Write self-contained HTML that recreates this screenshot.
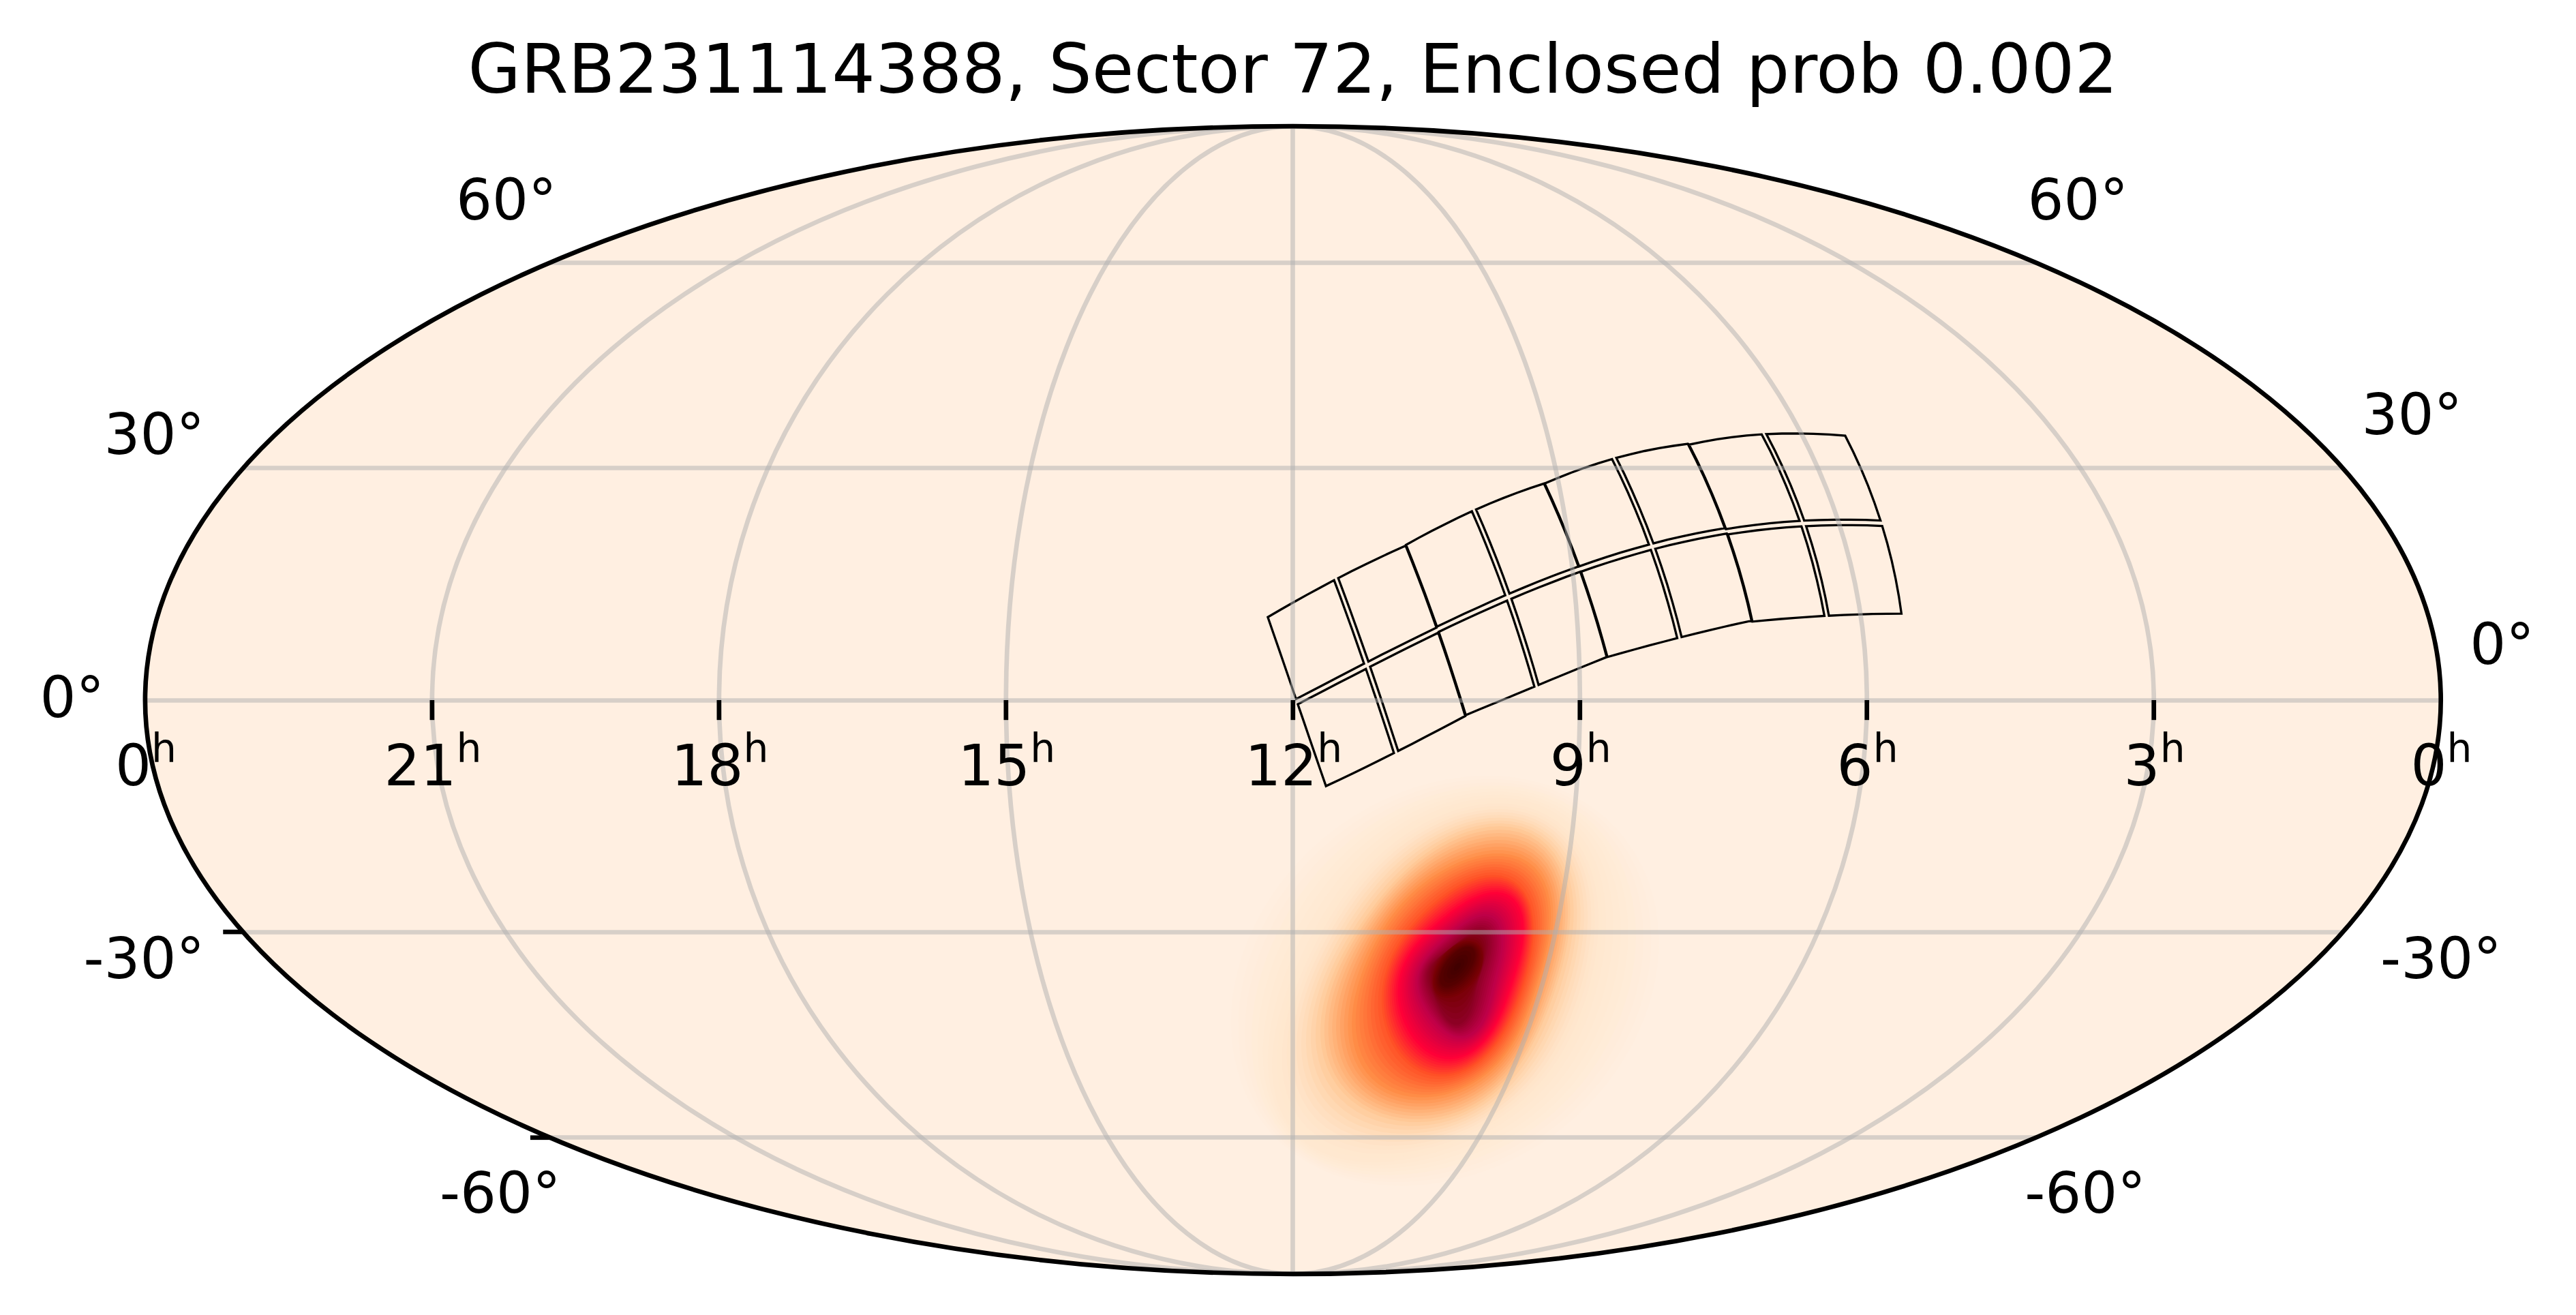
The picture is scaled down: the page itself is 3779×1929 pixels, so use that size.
<!DOCTYPE html>
<html><head><meta charset="utf-8"><title>GRB231114388, Sector 72</title>
<style>html,body{margin:0;padding:0;background:#fff;}body{width:3779px;height:1929px;overflow:hidden}svg{display:block}text{font-family:"DejaVu Sans","Liberation Sans",sans-serif;fill:#000}</style>
</head><body>
<svg width="3779" height="1929" viewBox="0 0 3779 1929">
<defs><clipPath id="clip"><ellipse cx="1896.8" cy="1027.0" rx="1683.9" ry="841.8"/></clipPath></defs>
<rect width="3779" height="1929" fill="#ffffff"/>
<ellipse cx="1896.8" cy="1027.0" rx="1683.9" ry="841.8" fill="#ffefe1"/>
<g clip-path="url(#clip)">
<path d="M2428.2 1437.9L2423.7 1457.8L2418.0 1477.2L2411.3 1496.0L2403.6 1514.1L2395.0 1531.5L2385.6 1548.3L2375.5 1564.3L2364.8 1579.7L2353.4 1594.4L2341.4 1608.4L2328.8 1621.8L2315.7 1634.5L2302.1 1646.5L2287.9 1657.9L2273.3 1668.7L2258.2 1678.8L2242.5 1688.2L2226.4 1696.9L2209.8 1705.0L2192.6 1712.3L2175.0 1718.9L2156.8 1724.6L2138.2 1729.6L2119.1 1733.6L2099.5 1736.7L2079.5 1738.7L2059.1 1739.5L2038.4 1739.1L2017.5 1737.3L1996.4 1734.0L1975.5 1729.1L1954.8 1722.4L1934.7 1713.9L1915.2 1703.5L1896.9 1691.3L1879.8 1677.2L1864.2 1661.4L1850.3 1644.1L1838.3 1625.5L1828.1 1605.9L1819.9 1585.4L1813.7 1564.4L1809.3 1543.0L1806.7 1521.6L1805.8 1500.2L1806.5 1479.0L1808.7 1458.2L1812.3 1437.9L1817.1 1418.1L1823.0 1398.9L1830.0 1380.4L1837.8 1362.5L1846.5 1345.3L1855.9 1328.9L1866.0 1313.1L1876.7 1298.0L1888.0 1283.5L1899.9 1269.7L1912.3 1256.5L1925.2 1244.0L1938.6 1232.0L1952.5 1220.7L1966.8 1210.0L1981.7 1199.9L1997.1 1190.4L2012.9 1181.6L2029.3 1173.4L2046.2 1165.9L2063.7 1159.2L2081.6 1153.3L2100.1 1148.2L2119.1 1144.0L2138.6 1140.9L2158.5 1138.8L2178.7 1138.0L2199.3 1138.4L2220.1 1140.3L2240.9 1143.8L2261.6 1148.8L2282.1 1155.6L2302.0 1164.2L2321.1 1174.6L2339.3 1186.7L2356.4 1200.6L2372.0 1216.1L2386.0 1233.1L2398.4 1251.3L2408.9 1270.6L2417.5 1290.7L2424.3 1311.5L2429.2 1332.6L2432.2 1354.0L2433.6 1375.3L2433.3 1396.5L2431.4 1417.4Z" fill="#ffeedf"/>
<path d="M2416.6 1436.8L2412.3 1456.0L2406.8 1474.8L2400.4 1492.9L2393.1 1510.4L2385.0 1527.3L2376.2 1543.6L2366.6 1559.3L2356.4 1574.3L2345.5 1588.7L2334.1 1602.4L2322.1 1615.6L2309.5 1628.1L2296.4 1640.0L2282.8 1651.2L2268.6 1661.9L2253.9 1671.9L2238.8 1681.2L2223.1 1689.9L2206.9 1698.0L2190.1 1705.3L2172.9 1711.9L2155.2 1717.8L2136.9 1722.9L2118.2 1727.2L2098.9 1730.5L2079.2 1732.8L2059.1 1734.0L2038.5 1734.0L2017.7 1732.7L1996.8 1729.8L1975.9 1725.3L1955.3 1718.9L1935.2 1710.6L1916.0 1700.2L1898.0 1687.9L1881.4 1673.5L1866.5 1657.4L1853.6 1639.8L1842.6 1620.9L1833.6 1601.1L1826.6 1580.6L1821.4 1559.7L1818.1 1538.6L1816.5 1517.6L1816.4 1496.8L1817.8 1476.3L1820.5 1456.3L1824.4 1436.8L1829.3 1417.8L1835.3 1399.5L1842.1 1381.8L1849.7 1364.8L1858.0 1348.4L1866.9 1332.7L1876.5 1317.6L1886.6 1303.1L1897.3 1289.1L1908.4 1275.8L1920.1 1263.0L1932.3 1250.8L1944.9 1239.2L1958.0 1228.0L1971.6 1217.4L1985.8 1207.4L2000.4 1197.9L2015.6 1189.0L2031.3 1180.8L2047.5 1173.1L2064.4 1166.2L2081.7 1160.0L2099.7 1154.6L2118.2 1150.1L2137.2 1146.6L2156.7 1144.2L2176.6 1142.9L2196.9 1143.0L2217.4 1144.6L2237.9 1147.7L2258.3 1152.5L2278.5 1159.2L2298.0 1167.6L2316.8 1178.0L2334.4 1190.2L2350.9 1204.1L2365.8 1219.6L2379.1 1236.5L2390.7 1254.7L2400.4 1273.8L2408.3 1293.7L2414.4 1314.1L2418.7 1334.7L2421.3 1355.5L2422.3 1376.3L2421.8 1396.8L2419.8 1417.0Z" fill="#ffeddd"/>
<path d="M2405.1 1435.6L2400.9 1454.2L2395.7 1472.3L2389.6 1489.8L2382.7 1506.7L2375.1 1523.1L2366.7 1538.9L2357.7 1554.2L2348.0 1568.8L2337.7 1582.9L2326.8 1596.4L2315.4 1609.3L2303.3 1621.7L2290.7 1633.4L2277.6 1644.6L2263.9 1655.1L2249.7 1665.0L2235.0 1674.3L2219.7 1683.0L2204.0 1691.0L2187.7 1698.3L2170.9 1705.0L2153.5 1711.0L2135.7 1716.3L2117.3 1720.7L2098.4 1724.3L2078.9 1727.0L2059.0 1728.6L2038.7 1729.0L2018.0 1728.1L1997.2 1725.6L1976.3 1721.4L1955.8 1715.4L1935.8 1707.2L1916.8 1696.9L1899.1 1684.4L1883.0 1669.9L1868.9 1653.5L1856.8 1635.5L1846.9 1616.3L1839.0 1596.3L1833.2 1575.7L1829.2 1554.9L1827.0 1534.2L1826.3 1513.6L1827.1 1493.4L1829.1 1473.6L1832.3 1454.3L1836.5 1435.6L1841.6 1417.6L1847.5 1400.1L1854.2 1383.3L1861.5 1367.1L1869.4 1351.5L1877.9 1336.5L1887.0 1322.0L1896.5 1308.2L1906.5 1294.8L1917.0 1281.9L1927.9 1269.6L1939.3 1257.7L1951.2 1246.3L1963.6 1235.3L1976.5 1224.9L1989.9 1214.9L2003.8 1205.4L2018.2 1196.5L2033.3 1188.1L2048.9 1180.3L2065.1 1173.2L2081.9 1166.7L2099.3 1161.0L2117.3 1156.2L2135.9 1152.3L2155.0 1149.5L2174.5 1147.9L2194.5 1147.6L2214.6 1148.8L2234.9 1151.6L2255.1 1156.2L2274.9 1162.7L2294.0 1171.1L2312.4 1181.4L2329.5 1193.6L2345.4 1207.5L2359.6 1223.1L2372.2 1240.0L2383.0 1258.1L2392.0 1277.0L2399.1 1296.6L2404.5 1316.6L2408.3 1336.9L2410.4 1357.1L2411.0 1377.2L2410.3 1397.1L2408.3 1416.6Z" fill="#ffecdb"/>
<path d="M2393.5 1434.5L2389.5 1452.4L2384.5 1469.8L2378.8 1486.7L2372.3 1503.1L2365.1 1518.9L2357.2 1534.3L2348.7 1549.1L2339.6 1563.4L2329.9 1577.2L2319.6 1590.4L2308.6 1603.1L2297.1 1615.3L2285.1 1626.9L2272.4 1637.9L2259.2 1648.3L2245.5 1658.1L2231.2 1667.4L2216.4 1676.0L2201.1 1684.0L2185.2 1691.4L2168.8 1698.1L2151.9 1704.2L2134.4 1709.6L2116.4 1714.3L2097.8 1718.1L2078.6 1721.1L2059.0 1723.1L2038.8 1723.9L2018.3 1723.4L1997.5 1721.4L1976.8 1717.6L1956.3 1711.8L1936.4 1703.9L1917.6 1693.6L1900.2 1681.0L1884.7 1666.2L1871.2 1649.5L1860.1 1631.2L1851.2 1611.7L1844.5 1591.5L1839.8 1570.9L1837.0 1550.2L1835.9 1529.7L1836.2 1509.6L1837.7 1489.9L1840.4 1470.8L1844.0 1452.4L1848.5 1434.5L1853.8 1417.3L1859.7 1400.7L1866.2 1384.7L1873.3 1369.4L1880.9 1354.6L1888.9 1340.3L1897.4 1326.5L1906.4 1313.3L1915.7 1300.4L1925.5 1288.1L1935.8 1276.1L1946.4 1264.5L1957.6 1253.4L1969.2 1242.7L1981.3 1232.3L1993.9 1222.4L2007.1 1213.0L2020.9 1204.0L2035.2 1195.5L2050.2 1187.5L2065.8 1180.1L2082.0 1173.4L2098.9 1167.4L2116.4 1162.3L2134.5 1158.0L2153.2 1154.8L2172.4 1152.8L2192.0 1152.2L2211.9 1153.1L2231.9 1155.6L2251.8 1160.0L2271.3 1166.2L2290.1 1174.5L2308.0 1184.8L2324.6 1197.0L2339.9 1211.0L2353.5 1226.6L2365.3 1243.5L2375.3 1261.5L2383.5 1280.3L2389.9 1299.6L2394.7 1319.2L2397.8 1339.0L2399.5 1358.6L2399.8 1378.1L2398.8 1397.3L2396.7 1416.1Z" fill="#ffecd8"/>
<path d="M2382.0 1433.4L2378.0 1450.6L2373.3 1467.3L2367.9 1483.6L2361.8 1499.4L2355.1 1514.7L2347.8 1529.6L2339.8 1544.0L2331.2 1557.9L2322.1 1571.4L2312.3 1584.4L2301.9 1596.9L2291.0 1608.9L2279.4 1620.3L2267.3 1631.2L2254.5 1641.5L2241.3 1651.3L2227.4 1660.4L2213.1 1669.0L2198.2 1677.0L2182.7 1684.4L2166.8 1691.2L2150.2 1697.4L2133.1 1702.9L2115.5 1707.8L2097.2 1711.9L2078.4 1715.2L2058.9 1717.6L2039.0 1718.9L2018.6 1718.8L1997.9 1717.2L1977.2 1713.8L1956.7 1708.3L1937.0 1700.5L1918.3 1690.3L1901.3 1677.6L1886.3 1662.5L1873.6 1645.5L1863.3 1626.9L1855.5 1607.1L1849.9 1586.7L1846.5 1566.0L1844.8 1545.5L1844.7 1525.3L1846.0 1505.6L1848.3 1486.5L1851.7 1468.1L1855.8 1450.4L1860.6 1433.4L1866.0 1417.0L1871.9 1401.3L1878.3 1386.2L1885.1 1371.7L1892.4 1357.6L1900.0 1344.1L1907.9 1331.0L1916.3 1318.4L1925.0 1306.1L1934.1 1294.2L1943.6 1282.6L1953.5 1271.4L1963.9 1260.5L1974.8 1250.0L1986.1 1239.8L1998.0 1230.0L2010.5 1220.5L2023.5 1211.4L2037.2 1202.8L2051.5 1194.7L2066.5 1187.1L2082.1 1180.1L2098.5 1173.8L2115.5 1168.3L2133.1 1163.7L2151.4 1160.2L2170.3 1157.8L2189.6 1156.8L2209.2 1157.3L2228.9 1159.5L2248.5 1163.7L2267.7 1169.8L2286.1 1178.0L2303.6 1188.2L2319.7 1200.4L2334.4 1214.5L2347.3 1230.1L2358.4 1247.0L2367.6 1264.9L2375.1 1283.5L2380.7 1302.6L2384.8 1321.8L2387.4 1341.1L2388.5 1360.2L2388.5 1379.1L2387.3 1397.6L2385.1 1415.7Z" fill="#ffebd6"/>
<path d="M2370.4 1432.2L2366.6 1448.8L2362.2 1464.8L2357.1 1480.5L2351.4 1495.7L2345.1 1510.5L2338.3 1524.9L2330.9 1538.9L2322.8 1552.5L2314.2 1565.7L2305.0 1578.4L2295.2 1590.7L2284.8 1602.5L2273.7 1613.7L2262.1 1624.5L2249.9 1634.7L2237.0 1644.4L2223.7 1653.5L2209.7 1662.0L2195.3 1670.0L2180.3 1677.4L2164.7 1684.3L2148.6 1690.6L2131.9 1696.3L2114.6 1701.4L2096.6 1705.8L2078.1 1709.4L2058.9 1712.1L2039.1 1713.8L2018.9 1714.2L1998.3 1713.0L1977.6 1710.0L1957.2 1704.8L1937.5 1697.2L1919.1 1687.0L1902.4 1674.1L1887.9 1658.9L1875.9 1641.5L1866.6 1622.5L1859.8 1602.5L1855.4 1581.9L1853.1 1561.2L1852.6 1540.8L1853.6 1520.8L1855.8 1501.6L1859.0 1483.1L1862.9 1465.4L1867.5 1448.4L1872.7 1432.2L1878.2 1416.8L1884.2 1401.9L1890.4 1387.7L1897.0 1373.9L1903.8 1360.7L1911.0 1347.9L1918.4 1335.5L1926.1 1323.5L1934.2 1311.7L1942.6 1300.3L1951.4 1289.2L1960.6 1278.3L1970.2 1267.7L1980.3 1257.3L1990.9 1247.2L2002.1 1237.5L2013.8 1228.0L2026.2 1218.9L2039.2 1210.2L2052.8 1201.9L2067.2 1194.1L2082.3 1186.8L2098.0 1180.2L2114.6 1174.4L2131.8 1169.4L2149.7 1165.5L2168.2 1162.8L2187.1 1161.4L2206.5 1161.6L2225.9 1163.5L2245.2 1167.4L2264.1 1173.3L2282.2 1181.4L2299.2 1191.6L2314.8 1203.9L2328.9 1217.9L2341.1 1233.6L2351.5 1250.5L2359.9 1268.3L2366.6 1286.7L2371.6 1305.5L2374.9 1324.4L2376.9 1343.2L2377.6 1361.8L2377.2 1380.0L2375.8 1397.9L2373.5 1415.3Z" fill="#ffead4"/>
<path d="M2358.9 1431.1L2355.2 1447.0L2351.0 1462.4L2346.3 1477.4L2341.0 1492.0L2335.2 1506.3L2328.8 1520.2L2321.9 1533.8L2314.5 1547.1L2306.4 1559.9L2297.8 1572.4L2288.5 1584.4L2278.6 1596.0L2268.1 1607.2L2256.9 1617.8L2245.2 1627.9L2232.8 1637.5L2219.9 1646.6L2206.4 1655.1L2192.4 1663.0L2177.8 1670.5L2162.6 1677.4L2146.9 1683.8L2130.6 1689.6L2113.7 1694.9L2096.1 1699.6L2077.8 1703.5L2058.8 1706.7L2039.3 1708.7L2019.1 1709.6L1998.6 1708.8L1978.0 1706.2L1957.7 1701.3L1938.1 1693.8L1919.9 1683.6L1903.5 1670.7L1889.6 1655.2L1878.3 1637.5L1869.8 1618.2L1864.1 1597.9L1860.8 1577.1L1859.7 1556.4L1860.4 1536.0L1862.5 1516.4L1865.6 1497.6L1869.6 1479.7L1874.2 1462.6L1879.3 1446.5L1884.7 1431.1L1890.4 1416.5L1896.4 1402.5L1902.5 1389.1L1908.8 1376.2L1915.3 1363.8L1922.0 1351.7L1928.9 1340.0L1936.0 1328.6L1943.4 1317.4L1951.1 1306.4L1959.2 1295.7L1967.7 1285.1L1976.5 1274.8L1985.9 1264.6L1995.8 1254.7L2006.2 1245.0L2017.2 1235.5L2028.8 1226.4L2041.1 1217.5L2054.2 1209.1L2067.9 1201.0L2082.4 1193.6L2097.6 1186.7L2113.7 1180.5L2130.4 1175.2L2147.9 1170.8L2166.1 1167.7L2184.7 1166.0L2203.7 1165.8L2222.9 1167.4L2241.9 1171.1L2260.5 1176.9L2278.2 1184.9L2294.8 1195.0L2309.9 1207.3L2323.4 1221.4L2334.9 1237.1L2344.6 1254.0L2352.3 1271.7L2358.1 1290.0L2362.4 1308.5L2365.1 1327.0L2366.5 1345.3L2366.7 1363.3L2365.9 1380.9L2364.3 1398.1L2361.9 1414.9Z" fill="#ffe9d2"/>
<path d="M2347.3 1430.0L2343.8 1445.1L2339.8 1459.9L2335.4 1474.3L2330.5 1488.4L2325.2 1502.1L2319.4 1515.6L2313.0 1528.7L2306.1 1541.6L2298.6 1554.2L2290.5 1566.4L2281.8 1578.2L2272.4 1589.6L2262.4 1600.6L2251.7 1611.1L2240.5 1621.1L2228.6 1630.6L2216.1 1639.6L2203.1 1648.1L2189.5 1656.0L2175.3 1663.5L2160.6 1670.5L2145.3 1676.9L2129.3 1683.0L2112.8 1688.5L2095.5 1693.4L2077.5 1697.7L2058.8 1701.2L2039.4 1703.7L2019.4 1704.9L1999.0 1704.6L1978.4 1702.3L1958.2 1697.7L1938.7 1690.5L1920.7 1680.3L1904.7 1667.3L1891.2 1651.6L1880.6 1633.6L1873.1 1613.9L1868.4 1593.3L1866.3 1572.3L1866.4 1551.5L1868.2 1531.3L1871.3 1512.0L1875.4 1493.6L1880.2 1476.2L1885.5 1459.9L1891.1 1444.5L1896.8 1430.0L1902.7 1416.2L1908.6 1403.1L1914.6 1390.6L1920.6 1378.5L1926.8 1366.9L1933.0 1355.5L1939.3 1344.5L1945.9 1333.7L1952.7 1323.0L1959.7 1312.5L1967.0 1302.2L1974.7 1292.0L1982.9 1281.9L1991.5 1272.0L2000.6 1262.1L2010.3 1252.5L2020.6 1243.0L2031.5 1233.8L2043.1 1224.9L2055.5 1216.3L2068.6 1208.0L2082.5 1200.3L2097.2 1193.1L2112.8 1186.6L2129.1 1180.9L2146.2 1176.2L2163.9 1172.7L2182.3 1170.5L2201.0 1170.0L2219.9 1171.4L2238.6 1174.8L2256.9 1180.4L2274.2 1188.3L2290.4 1198.5L2305.0 1210.7L2317.9 1224.9L2328.8 1240.6L2337.6 1257.4L2344.6 1275.1L2349.7 1293.2L2353.2 1311.4L2355.2 1329.6L2356.0 1347.4L2355.8 1364.9L2354.7 1381.9L2352.8 1398.4L2350.4 1414.4Z" fill="#ffe8d0"/>
<path d="M2341.5 1429.8L2338.0 1444.4L2334.1 1458.7L2329.8 1472.6L2325.1 1486.3L2319.9 1499.6L2314.3 1512.6L2308.2 1525.4L2301.6 1537.9L2294.4 1550.2L2286.7 1562.1L2278.3 1573.7L2269.4 1584.9L2259.8 1595.8L2249.6 1606.2L2238.7 1616.1L2227.3 1625.6L2215.2 1634.6L2202.6 1643.1L2189.3 1651.1L2175.5 1658.6L2161.1 1665.6L2146.1 1672.1L2130.5 1678.1L2114.2 1683.5L2097.2 1688.3L2079.6 1692.4L2061.3 1695.7L2042.3 1697.9L2022.8 1698.9L2002.9 1698.3L1983.0 1695.8L1963.3 1691.1L1944.4 1683.8L1926.9 1673.8L1911.4 1661.0L1898.3 1645.7L1887.9 1628.2L1880.4 1609.1L1875.7 1589.1L1873.5 1568.7L1873.4 1548.5L1875.1 1528.8L1878.0 1509.9L1882.0 1492.0L1886.6 1475.0L1891.7 1459.0L1897.1 1444.0L1902.8 1429.8L1908.5 1416.3L1914.4 1403.4L1920.3 1391.2L1926.2 1379.4L1932.3 1368.0L1938.4 1356.9L1944.7 1346.2L1951.1 1335.6L1957.8 1325.2L1964.7 1315.0L1971.8 1304.9L1979.4 1295.0L1987.3 1285.1L1995.7 1275.4L2004.6 1265.8L2014.0 1256.3L2024.1 1247.0L2034.7 1237.9L2046.1 1229.1L2058.1 1220.6L2070.9 1212.4L2084.6 1204.7L2099.0 1197.5L2114.2 1191.0L2130.2 1185.2L2147.0 1180.5L2164.5 1176.9L2182.5 1174.8L2200.9 1174.2L2219.5 1175.6L2237.9 1179.0L2255.7 1184.6L2272.7 1192.5L2288.4 1202.7L2302.6 1214.9L2315.0 1229.0L2325.4 1244.6L2333.8 1261.2L2340.3 1278.7L2345.1 1296.5L2348.2 1314.3L2350.0 1332.1L2350.6 1349.5L2350.2 1366.5L2349.0 1383.1L2347.0 1399.1L2344.5 1414.7Z" fill="#ffe8cf"/>
<path d="M2335.7 1429.5L2332.3 1443.7L2328.4 1457.5L2324.2 1471.0L2319.6 1484.2L2314.7 1497.1L2309.3 1509.7L2303.4 1522.1L2297.1 1534.3L2290.2 1546.2L2282.8 1557.8L2274.9 1569.2L2266.3 1580.2L2257.2 1590.9L2247.4 1601.2L2237.0 1611.1L2226.0 1620.6L2214.3 1629.6L2202.1 1638.2L2189.2 1646.2L2175.7 1653.8L2161.6 1660.8L2146.9 1667.3L2131.6 1673.3L2115.6 1678.6L2099.0 1683.2L2081.7 1687.1L2063.8 1690.2L2045.2 1692.1L2026.2 1692.8L2006.9 1692.0L1987.5 1689.3L1968.4 1684.5L1950.1 1677.2L1933.2 1667.3L1918.1 1654.7L1905.3 1639.8L1895.2 1622.8L1887.8 1604.3L1883.1 1584.9L1880.8 1565.1L1880.5 1545.4L1882.0 1526.3L1884.7 1507.9L1888.5 1490.4L1892.9 1473.8L1897.9 1458.2L1903.2 1443.4L1908.7 1429.5L1914.4 1416.3L1920.1 1403.8L1926.0 1391.8L1931.8 1380.3L1937.8 1369.1L1943.9 1358.4L1950.0 1347.8L1956.3 1337.5L1962.9 1327.4L1969.6 1317.5L1976.7 1307.6L1984.0 1297.9L1991.8 1288.3L2000.0 1278.8L2008.6 1269.4L2017.8 1260.1L2027.6 1251.0L2038.0 1242.0L2049.0 1233.3L2060.8 1224.9L2073.3 1216.8L2086.6 1209.1L2100.7 1201.9L2115.6 1195.4L2131.3 1189.6L2147.8 1184.8L2165.0 1181.2L2182.7 1179.0L2200.8 1178.4L2219.1 1179.7L2237.1 1183.1L2254.6 1188.8L2271.2 1196.7L2286.5 1206.8L2300.2 1219.1L2312.0 1233.1L2322.0 1248.5L2329.9 1265.0L2336.0 1282.2L2340.4 1299.7L2343.3 1317.2L2344.8 1334.6L2345.1 1351.6L2344.6 1368.2L2343.2 1384.2L2341.2 1399.8L2338.7 1414.9Z" fill="#ffe6cd"/>
<path d="M2329.9 1429.2L2326.5 1443.0L2322.7 1456.3L2318.6 1469.3L2314.2 1482.1L2309.4 1494.5L2304.2 1506.8L2298.6 1518.8L2292.6 1530.6L2286.1 1542.2L2279.0 1553.5L2271.5 1564.7L2263.3 1575.5L2254.6 1586.0L2245.2 1596.3L2235.2 1606.1L2224.6 1615.6L2213.4 1624.6L2201.5 1633.2L2189.1 1641.3L2175.9 1648.9L2162.2 1656.0L2147.8 1662.5L2132.7 1668.4L2117.1 1673.6L2100.7 1678.2L2083.8 1681.9L2066.2 1684.7L2048.2 1686.4L2029.6 1686.8L2010.8 1685.7L1992.0 1682.8L1973.5 1677.8L1955.9 1670.5L1939.4 1660.7L1924.8 1648.5L1912.4 1633.9L1902.5 1617.4L1895.2 1599.5L1890.4 1580.7L1888.0 1561.5L1887.6 1542.4L1888.8 1523.8L1891.4 1505.8L1895.0 1488.8L1899.3 1472.6L1904.1 1457.3L1909.3 1442.9L1914.7 1429.2L1920.2 1416.4L1925.9 1404.1L1931.6 1392.4L1937.5 1381.1L1943.3 1370.3L1949.3 1359.8L1955.4 1349.5L1961.6 1339.5L1968.0 1329.6L1974.6 1319.9L1981.5 1310.4L1988.7 1300.9L1996.2 1291.5L2004.2 1282.2L2012.6 1273.0L2021.6 1263.9L2031.1 1254.9L2041.2 1246.1L2052.0 1237.5L2063.4 1229.2L2075.7 1221.1L2088.6 1213.5L2102.4 1206.3L2117.1 1199.7L2132.5 1194.0L2148.7 1189.1L2165.5 1185.5L2183.0 1183.2L2200.8 1182.6L2218.7 1183.9L2236.4 1187.3L2253.5 1192.9L2269.6 1200.9L2284.5 1211.0L2297.7 1223.3L2309.1 1237.2L2318.6 1252.5L2326.1 1268.9L2331.8 1285.8L2335.8 1303.0L2338.3 1320.1L2339.5 1337.1L2339.7 1353.7L2339.0 1369.8L2337.5 1385.4L2335.4 1400.5L2332.9 1415.1Z" fill="#ffe5ca"/>
<path d="M2324.0 1429.0L2320.7 1442.3L2317.0 1455.1L2313.0 1467.7L2308.7 1480.0L2304.1 1492.0L2299.2 1503.8L2293.8 1515.5L2288.1 1526.9L2281.9 1538.2L2275.2 1549.3L2268.0 1560.1L2260.3 1570.8L2252.0 1581.2L2243.0 1591.3L2233.5 1601.1L2223.3 1610.6L2212.5 1619.6L2201.0 1628.3L2188.9 1636.4L2176.1 1644.1L2162.7 1651.2L2148.6 1657.7L2133.9 1663.6L2118.5 1668.7L2102.5 1673.1L2085.9 1676.6L2068.7 1679.2L2051.1 1680.6L2033.0 1680.8L2014.8 1679.4L1996.5 1676.3L1978.7 1671.2L1961.6 1663.8L1945.7 1654.2L1931.5 1642.2L1919.4 1628.1L1909.7 1612.1L1902.5 1594.7L1897.7 1576.5L1895.2 1557.9L1894.7 1539.4L1895.7 1521.3L1898.1 1503.8L1901.5 1487.1L1905.6 1471.3L1910.3 1456.4L1915.3 1442.3L1920.6 1429.0L1926.1 1416.4L1931.7 1404.4L1937.3 1393.0L1943.1 1382.0L1948.9 1371.4L1954.7 1361.2L1960.7 1351.2L1966.8 1341.4L1973.1 1331.8L1979.6 1322.4L1986.3 1313.1L1993.3 1303.8L2000.7 1294.7L2008.5 1285.6L2016.7 1276.6L2025.4 1267.7L2034.6 1258.9L2044.4 1250.2L2054.9 1241.7L2066.1 1233.5L2078.0 1225.5L2090.7 1217.9L2104.2 1210.7L2118.5 1204.1L2133.6 1198.3L2149.5 1193.5L2166.1 1189.8L2183.2 1187.4L2200.7 1186.8L2218.3 1188.1L2235.6 1191.5L2252.4 1197.1L2268.1 1205.1L2282.5 1215.2L2295.3 1227.4L2306.2 1241.3L2315.2 1256.5L2322.2 1272.7L2327.5 1289.3L2331.1 1306.2L2333.3 1323.0L2334.3 1339.6L2334.3 1355.8L2333.4 1371.4L2331.8 1386.6L2329.6 1401.2L2327.0 1415.3Z" fill="#ffe2c6"/>
<path d="M2318.2 1428.8L2314.9 1441.5L2311.3 1453.9L2307.4 1466.0L2303.3 1477.9L2298.9 1489.5L2294.1 1500.9L2289.0 1512.2L2283.6 1523.2L2277.7 1534.2L2271.4 1545.0L2264.6 1555.6L2257.2 1566.1L2249.4 1576.3L2240.9 1586.4L2231.8 1596.1L2222.0 1605.6L2211.6 1614.6L2200.5 1623.3L2188.8 1631.5L2176.3 1639.3L2163.2 1646.4L2149.4 1652.9L2135.0 1658.7L2119.9 1663.8L2104.2 1668.0L2088.0 1671.3L2071.2 1673.7L2054.0 1674.8L2036.4 1674.7L2018.7 1673.1L2001.1 1669.8L1983.8 1664.5L1967.3 1657.2L1952.0 1647.7L1938.2 1635.9L1926.5 1622.2L1917.0 1606.7L1909.9 1589.9L1905.1 1572.3L1902.5 1554.3L1901.7 1536.3L1902.6 1518.8L1904.8 1501.8L1908.0 1485.5L1912.0 1470.1L1916.5 1455.5L1921.4 1441.8L1926.6 1428.8L1932.0 1416.4L1937.4 1404.7L1943.0 1393.6L1948.7 1382.9L1954.4 1372.6L1960.2 1362.6L1966.0 1352.9L1972.0 1343.4L1978.2 1334.0L1984.5 1324.9L1991.1 1315.8L1998.0 1306.8L2005.2 1297.9L2012.7 1289.0L2020.7 1280.2L2029.1 1271.5L2038.1 1262.9L2047.7 1254.3L2057.9 1246.0L2068.8 1237.8L2080.4 1229.8L2092.7 1222.3L2105.9 1215.1L2119.9 1208.5L2134.7 1202.7L2150.3 1197.8L2166.6 1194.0L2183.4 1191.7L2200.6 1191.0L2217.9 1192.2L2234.9 1195.6L2251.2 1201.3L2266.6 1209.3L2280.5 1219.4L2292.8 1231.6L2303.3 1245.4L2311.8 1260.5L2318.4 1276.5L2323.2 1292.9L2326.5 1309.5L2328.4 1325.9L2329.1 1342.1L2328.8 1357.8L2327.8 1373.1L2326.1 1387.7L2323.9 1401.9L2321.2 1415.6Z" fill="#ffdfc0"/>
<path d="M2312.4 1428.5L2309.1 1440.8L2305.6 1452.8L2301.8 1464.4L2297.8 1475.8L2293.6 1487.0L2289.1 1498.0L2284.3 1508.8L2279.1 1519.6L2273.5 1530.2L2267.6 1540.7L2261.2 1551.1L2254.2 1561.4L2246.7 1571.5L2238.7 1581.4L2230.0 1591.1L2220.7 1600.5L2210.7 1609.7L2200.0 1618.4L2188.6 1626.7L2176.5 1634.4L2163.7 1641.6L2150.3 1648.1L2136.1 1653.9L2121.4 1658.8L2106.0 1662.9L2090.1 1666.1L2073.7 1668.2L2056.9 1669.1L2039.8 1668.7L2022.7 1666.8L2005.6 1663.3L1988.9 1657.9L1973.0 1650.5L1958.2 1641.1L1944.9 1629.7L1933.6 1616.3L1924.3 1601.3L1917.2 1585.1L1912.4 1568.1L1909.7 1550.7L1908.8 1533.3L1909.5 1516.3L1911.5 1499.7L1914.5 1483.9L1918.3 1468.9L1922.7 1454.7L1927.5 1441.2L1932.5 1428.5L1937.8 1416.5L1943.2 1405.0L1948.7 1394.2L1954.3 1383.7L1959.9 1373.7L1965.6 1364.0L1971.4 1354.5L1977.3 1345.3L1983.3 1336.3L1989.5 1327.3L1995.9 1318.5L2002.6 1309.8L2009.6 1301.1L2017.0 1292.4L2024.7 1283.8L2032.9 1275.3L2041.6 1266.8L2050.9 1258.4L2060.8 1250.2L2071.4 1242.1L2082.7 1234.2L2094.8 1226.7L2107.7 1219.5L2121.4 1212.9L2135.9 1207.1L2151.2 1202.1L2167.2 1198.3L2183.7 1195.9L2200.6 1195.2L2217.5 1196.4L2234.1 1199.8L2250.1 1205.5L2265.0 1213.5L2278.6 1223.6L2290.4 1235.8L2300.3 1249.5L2308.4 1264.5L2314.5 1280.3L2319.0 1296.5L2321.9 1312.7L2323.4 1328.8L2323.9 1344.6L2323.4 1359.9L2322.2 1374.7L2320.4 1388.9L2318.1 1402.6L2315.4 1415.8Z" fill="#ffdcba"/>
<path d="M2306.6 1428.2L2303.3 1440.1L2299.9 1451.6L2296.2 1462.8L2292.4 1473.7L2288.3 1484.4L2284.0 1495.0L2279.5 1505.5L2274.6 1515.9L2269.4 1526.2L2263.8 1536.4L2257.7 1546.6L2251.2 1556.6L2244.1 1566.6L2236.5 1576.5L2228.3 1586.1L2219.4 1595.5L2209.8 1604.7L2199.5 1613.4L2188.5 1621.8L2176.7 1629.6L2164.3 1636.8L2151.1 1643.3L2137.3 1649.0L2122.8 1653.9L2107.7 1657.9L2092.2 1660.8L2076.2 1662.6L2059.8 1663.3L2043.2 1662.6L2026.6 1660.5L2010.1 1656.7L1994.0 1651.2L1978.7 1643.9L1964.5 1634.6L1951.7 1623.4L1940.6 1610.4L1931.6 1596.0L1924.6 1580.3L1919.8 1563.9L1916.9 1547.1L1915.9 1530.3L1916.4 1513.7L1918.2 1497.7L1921.0 1482.3L1924.6 1467.7L1928.9 1453.8L1933.5 1440.7L1938.5 1428.2L1943.7 1416.5L1949.0 1405.4L1954.4 1394.8L1959.9 1384.6L1965.4 1374.8L1971.0 1365.4L1976.7 1356.2L1982.5 1347.2L1988.4 1338.5L1994.5 1329.8L2000.7 1321.2L2007.3 1312.7L2014.1 1304.3L2021.2 1295.8L2028.7 1287.5L2036.7 1279.1L2045.1 1270.8L2054.2 1262.5L2063.8 1254.4L2074.1 1246.4L2085.1 1238.6L2096.8 1231.1L2109.4 1223.9L2122.8 1217.3L2137.0 1211.4L2152.0 1206.4L2167.7 1202.6L2183.9 1200.1L2200.5 1199.4L2217.1 1200.6L2233.4 1204.0L2249.0 1209.6L2263.5 1217.7L2276.6 1227.8L2287.9 1240.0L2297.4 1253.6L2305.0 1268.5L2310.7 1284.1L2314.7 1300.0L2317.2 1316.0L2318.5 1331.8L2318.6 1347.1L2318.0 1362.0L2316.6 1376.3L2314.6 1390.1L2312.3 1403.3L2309.5 1416.0Z" fill="#ffd8b2"/>
<path d="M2300.7 1428.0L2297.5 1439.4L2294.2 1450.4L2290.6 1461.1L2287.0 1471.6L2283.1 1481.9L2279.0 1492.1L2274.7 1502.2L2270.1 1512.2L2265.2 1522.2L2259.9 1532.1L2254.3 1542.1L2248.2 1551.9L2241.5 1561.8L2234.3 1571.5L2226.5 1581.1L2218.1 1590.5L2208.9 1599.7L2199.0 1608.5L2188.3 1616.9L2176.9 1624.7L2164.8 1631.9L2151.9 1638.5L2138.4 1644.2L2124.2 1649.0L2109.5 1652.8L2094.3 1655.5L2078.7 1657.1L2062.7 1657.5L2046.6 1656.6L2030.5 1654.2L2014.6 1650.2L1999.2 1644.6L1984.4 1637.2L1970.7 1628.0L1958.4 1617.1L1947.7 1604.6L1938.8 1590.6L1932.0 1575.5L1927.1 1559.7L1924.2 1543.5L1923.0 1527.3L1923.3 1511.2L1924.9 1495.7L1927.5 1480.7L1931.0 1466.4L1935.1 1452.9L1939.6 1440.1L1944.5 1428.0L1949.5 1416.5L1954.8 1405.7L1960.1 1395.4L1965.5 1385.5L1970.9 1376.0L1976.5 1366.8L1982.1 1357.9L1987.7 1349.2L1993.5 1340.7L1999.4 1332.3L2005.6 1323.9L2011.9 1315.7L2018.5 1307.5L2025.4 1299.3L2032.7 1291.1L2040.5 1282.9L2048.7 1274.8L2057.4 1266.6L2066.7 1258.6L2076.7 1250.7L2087.4 1242.9L2098.9 1235.5L2111.1 1228.3L2124.2 1221.7L2138.1 1215.8L2152.8 1210.7L2168.2 1206.8L2184.2 1204.4L2200.4 1203.6L2216.7 1204.8L2232.7 1208.1L2247.9 1213.8L2262.0 1221.8L2274.6 1232.0L2285.5 1244.1L2294.5 1257.8L2301.6 1272.5L2306.8 1287.9L2310.4 1303.6L2312.6 1319.2L2313.5 1334.7L2313.4 1349.6L2312.5 1364.1L2311.0 1378.0L2308.9 1391.3L2306.5 1404.0L2303.7 1416.2Z" fill="#ffd3aa"/>
<path d="M2294.9 1427.8L2291.8 1438.6L2288.5 1449.2L2285.1 1459.5L2281.5 1469.5L2277.8 1479.4L2273.9 1489.2L2269.9 1498.9L2265.6 1508.5L2261.0 1518.2L2256.1 1527.9L2250.9 1537.5L2245.1 1547.2L2238.9 1556.9L2232.2 1566.5L2224.8 1576.1L2216.7 1585.5L2208.0 1594.7L2198.5 1603.5L2188.2 1612.0L2177.1 1619.9L2165.3 1627.1L2152.8 1633.6L2139.5 1639.3L2125.7 1644.0L2111.2 1647.7L2096.4 1650.3L2081.1 1651.6L2065.6 1651.8L2050.0 1650.5L2034.5 1647.9L2019.2 1643.7L2004.3 1638.0L1990.1 1630.6L1977.0 1621.5L1965.1 1610.8L1954.7 1598.7L1946.1 1585.2L1939.3 1570.7L1934.5 1555.5L1931.4 1539.9L1930.0 1524.2L1930.2 1508.7L1931.6 1493.6L1934.0 1479.1L1937.3 1465.2L1941.3 1452.0L1945.7 1439.5L1950.4 1427.8L1955.4 1416.6L1960.5 1406.0L1965.8 1395.9L1971.1 1386.3L1976.5 1377.1L1981.9 1368.2L1987.4 1359.6L1993.0 1351.1L1998.6 1342.9L2004.4 1334.7L2010.4 1326.6L2016.5 1318.6L2023.0 1310.6L2029.7 1302.7L2036.8 1294.7L2044.2 1286.7L2052.2 1278.7L2060.6 1270.8L2069.7 1262.8L2079.4 1255.0L2089.8 1247.3L2100.9 1239.8L2112.9 1232.7L2125.7 1226.1L2139.3 1220.1L2153.7 1215.1L2168.8 1211.1L2184.4 1208.6L2200.3 1207.8L2216.3 1208.9L2231.9 1212.3L2246.8 1218.0L2260.4 1226.0L2272.6 1236.2L2283.0 1248.3L2291.6 1261.9L2298.2 1276.5L2303.0 1291.7L2306.2 1307.1L2308.0 1322.5L2308.6 1337.6L2308.2 1352.1L2307.1 1366.2L2305.4 1379.6L2303.2 1392.4L2300.7 1404.7L2297.9 1416.5Z" fill="#ffcea0"/>
<path d="M2289.1 1427.5L2286.0 1437.9L2282.8 1448.0L2279.5 1457.8L2276.1 1467.4L2272.5 1476.9L2268.9 1486.2L2265.1 1495.6L2261.1 1504.9L2256.9 1514.2L2252.3 1523.6L2247.4 1533.0L2242.1 1542.5L2236.3 1552.0L2230.0 1561.6L2223.0 1571.1L2215.4 1580.5L2207.1 1589.7L2198.0 1598.6L2188.1 1607.1L2177.3 1615.0L2165.9 1622.3L2153.6 1628.8L2140.7 1634.5L2127.1 1639.1L2113.0 1642.6L2098.5 1645.0L2083.6 1646.1L2068.6 1646.0L2053.4 1644.5L2038.4 1641.6L2023.7 1637.2L2009.4 1631.3L1995.9 1623.9L1983.2 1615.0L1971.8 1604.6L1961.8 1592.8L1953.4 1579.8L1946.7 1565.9L1941.8 1551.3L1938.6 1536.3L1937.1 1521.2L1937.1 1506.2L1938.3 1491.6L1940.6 1477.5L1943.7 1464.0L1947.5 1451.2L1951.7 1439.0L1956.4 1427.5L1961.2 1416.6L1966.3 1406.3L1971.5 1396.5L1976.7 1387.2L1982.0 1378.2L1987.3 1369.6L1992.7 1361.2L1998.2 1353.1L2003.7 1345.1L2009.4 1337.2L2015.2 1329.4L2021.2 1321.6L2027.4 1313.8L2033.9 1306.1L2040.8 1298.3L2048.0 1290.5L2055.7 1282.7L2063.9 1274.9L2072.6 1267.0L2082.0 1259.3L2092.1 1251.7L2103.0 1244.2L2114.6 1237.1L2127.1 1230.5L2140.4 1224.5L2154.5 1219.4L2169.3 1215.4L2184.6 1212.8L2200.3 1211.9L2215.9 1213.1L2231.2 1216.5L2245.6 1222.2L2258.9 1230.2L2270.6 1240.4L2280.6 1252.5L2288.6 1266.0L2294.8 1280.5L2299.1 1295.5L2301.9 1310.7L2303.3 1325.8L2303.6 1340.5L2303.0 1354.6L2301.6 1368.3L2299.8 1381.2L2297.5 1393.6L2294.9 1405.4L2292.1 1416.7Z" fill="#ffc896"/>
<path d="M2285.4 1427.7L2282.4 1437.8L2279.3 1447.7L2276.1 1457.2L2272.8 1466.6L2269.4 1475.8L2265.8 1485.0L2262.2 1494.1L2258.3 1503.2L2254.2 1512.3L2249.8 1521.5L2245.0 1530.7L2239.9 1540.0L2234.2 1549.3L2228.1 1558.7L2221.3 1568.0L2213.8 1577.2L2205.7 1586.2L2196.8 1594.8L2187.1 1603.1L2176.6 1610.9L2165.4 1618.1L2153.4 1624.5L2140.8 1630.0L2127.5 1634.5L2113.8 1638.0L2099.5 1640.4L2085.0 1641.6L2070.3 1641.5L2055.5 1640.0L2040.8 1637.2L2026.4 1632.9L2012.4 1627.1L1999.2 1619.8L1987.0 1610.9L1975.9 1600.6L1966.2 1589.0L1958.2 1576.2L1951.8 1562.5L1947.2 1548.2L1944.2 1533.5L1942.9 1518.8L1942.9 1504.2L1944.1 1490.0L1946.3 1476.2L1949.3 1463.1L1953.0 1450.7L1957.1 1438.9L1961.5 1427.7L1966.1 1417.1L1971.0 1407.1L1975.9 1397.5L1980.9 1388.4L1986.0 1379.6L1991.1 1371.2L1996.3 1363.0L2001.6 1355.0L2007.0 1347.1L2012.5 1339.4L2018.1 1331.7L2023.9 1324.1L2030.0 1316.5L2036.4 1308.9L2043.1 1301.3L2050.2 1293.7L2057.7 1286.1L2065.7 1278.4L2074.3 1270.8L2083.5 1263.3L2093.4 1255.9L2104.0 1248.7L2115.4 1241.8L2127.5 1235.3L2140.5 1229.5L2154.3 1224.5L2168.8 1220.5L2183.8 1217.9L2199.1 1217.0L2214.4 1218.0L2229.4 1221.1L2243.6 1226.6L2256.7 1234.4L2268.2 1244.4L2277.9 1256.2L2285.8 1269.4L2291.7 1283.7L2295.9 1298.5L2298.5 1313.4L2299.8 1328.2L2300.0 1342.7L2299.3 1356.6L2297.9 1369.9L2296.0 1382.6L2293.7 1394.6L2291.1 1406.2L2288.3 1417.1Z" fill="#ffc08c"/>
<path d="M2281.8 1427.9L2278.8 1437.8L2275.8 1447.3L2272.7 1456.7L2269.5 1465.8L2266.2 1474.8L2262.8 1483.7L2259.2 1492.6L2255.5 1501.5L2251.5 1510.4L2247.3 1519.4L2242.6 1528.4L2237.6 1537.5L2232.1 1546.6L2226.1 1555.8L2219.5 1564.9L2212.3 1573.8L2204.3 1582.6L2195.6 1591.1L2186.2 1599.2L2175.9 1606.8L2165.0 1613.8L2153.3 1620.1L2140.9 1625.5L2128.0 1630.0L2114.5 1633.4L2100.6 1635.8L2086.4 1637.0L2072.0 1636.9L2057.5 1635.5L2043.1 1632.8L2029.0 1628.6L2015.4 1622.8L2002.6 1615.6L1990.7 1606.8L1980.0 1596.7L1970.7 1585.2L1963.0 1572.6L1956.9 1559.1L1952.6 1545.1L1949.8 1530.7L1948.6 1516.3L1948.7 1502.1L1949.9 1488.3L1952.1 1475.0L1955.0 1462.3L1958.5 1450.2L1962.4 1438.7L1966.6 1427.9L1971.0 1417.6L1975.7 1407.8L1980.4 1398.5L1985.2 1389.6L1990.0 1381.0L1994.9 1372.8L1999.9 1364.7L2005.0 1356.9L2010.2 1349.2L2015.5 1341.6L2021.0 1334.1L2026.7 1326.6L2032.6 1319.1L2038.9 1311.7L2045.4 1304.3L2052.3 1296.9L2059.7 1289.4L2067.6 1282.0L2076.0 1274.6L2085.0 1267.3L2094.6 1260.1L2105.0 1253.2L2116.1 1246.5L2128.0 1240.2L2140.7 1234.5L2154.1 1229.5L2168.2 1225.6L2182.9 1223.0L2197.9 1222.0L2212.9 1222.8L2227.6 1225.8L2241.6 1231.1L2254.4 1238.6L2265.7 1248.3L2275.3 1259.9L2282.9 1272.9L2288.7 1286.9L2292.7 1301.5L2295.2 1316.2L2296.3 1330.7L2296.3 1344.9L2295.5 1358.5L2294.1 1371.5L2292.2 1383.9L2289.9 1395.7L2287.3 1406.9L2284.6 1417.6Z" fill="#ffb982"/>
<path d="M2278.1 1428.1L2275.2 1437.7L2272.3 1447.0L2269.3 1456.1L2266.2 1465.0L2263.0 1473.8L2259.7 1482.5L2256.3 1491.1L2252.7 1499.8L2248.9 1508.5L2244.7 1517.3L2240.3 1526.1L2235.4 1535.0L2230.1 1543.9L2224.2 1552.9L2217.8 1561.7L2210.7 1570.5L2202.9 1579.1L2194.4 1587.4L2185.2 1595.3L2175.2 1602.7L2164.5 1609.6L2153.1 1615.7L2141.1 1621.0L2128.4 1625.4L2115.3 1628.8L2101.7 1631.2L2087.8 1632.4L2073.7 1632.4L2059.5 1631.1L2045.5 1628.4L2031.7 1624.2L2018.4 1618.6L2005.9 1611.4L1994.4 1602.8L1984.0 1592.7L1975.1 1581.4L1967.8 1568.9L1962.1 1555.7L1958.0 1542.0L1955.5 1527.9L1954.4 1513.9L1954.5 1500.1L1955.7 1486.7L1957.8 1473.8L1960.6 1461.4L1964.0 1449.7L1967.7 1438.6L1971.7 1428.1L1975.9 1418.1L1980.3 1408.6L1984.8 1399.5L1989.4 1390.8L1994.0 1382.4L1998.7 1374.3L2003.5 1366.5L2008.4 1358.8L2013.4 1351.2L2018.6 1343.8L2023.9 1336.4L2029.4 1329.1L2035.2 1321.8L2041.3 1314.5L2047.7 1307.3L2054.5 1300.0L2061.7 1292.8L2069.4 1285.6L2077.6 1278.4L2086.4 1271.3L2095.9 1264.4L2106.0 1257.6L2116.8 1251.1L2128.4 1245.0L2140.8 1239.4L2153.9 1234.6L2167.7 1230.7L2182.0 1228.1L2196.7 1227.0L2211.4 1227.7L2225.9 1230.5L2239.6 1235.5L2252.2 1242.8L2263.3 1252.3L2272.6 1263.6L2280.1 1276.4L2285.7 1290.2L2289.5 1304.5L2291.8 1318.9L2292.8 1333.2L2292.7 1347.1L2291.8 1360.4L2290.3 1373.1L2288.4 1385.2L2286.1 1396.7L2283.6 1407.6L2280.9 1418.1Z" fill="#ffb278"/>
<path d="M2274.4 1428.2L2271.6 1437.6L2268.8 1446.7L2265.9 1455.5L2262.9 1464.2L2259.9 1472.7L2256.7 1481.2L2253.4 1489.7L2249.9 1498.1L2246.2 1506.6L2242.2 1515.2L2237.9 1523.8L2233.1 1532.5L2228.0 1541.2L2222.3 1550.0L2216.0 1558.6L2209.1 1567.2L2201.5 1575.6L2193.3 1583.7L2184.3 1591.4L2174.5 1598.7L2164.1 1605.3L2153.0 1611.3L2141.2 1616.5L2128.9 1620.9L2116.0 1624.2L2102.8 1626.6L2089.2 1627.8L2075.4 1627.9L2061.5 1626.6L2047.8 1624.0L2034.4 1619.9L2021.4 1614.4L2009.2 1607.3L1998.1 1598.7L1988.1 1588.8L1979.6 1577.5L1972.6 1565.3L1967.2 1552.3L1963.4 1538.8L1961.1 1525.1L1960.1 1511.5L1960.3 1498.1L1961.6 1485.0L1963.6 1472.5L1966.3 1460.6L1969.5 1449.2L1973.0 1438.5L1976.8 1428.2L1980.8 1418.5L1985.0 1409.3L1989.3 1400.5L1993.6 1392.0L1998.0 1383.8L2002.5 1375.9L2007.1 1368.2L2011.8 1360.7L2016.7 1353.3L2021.6 1346.0L2026.8 1338.7L2032.2 1331.6L2037.8 1324.4L2043.8 1317.3L2050.0 1310.3L2056.7 1303.2L2063.7 1296.2L2071.3 1289.2L2079.3 1282.2L2087.9 1275.4L2097.1 1268.6L2107.0 1262.1L2117.6 1255.8L2128.9 1249.8L2140.9 1244.4L2153.7 1239.7L2167.1 1235.9L2181.1 1233.2L2195.5 1232.0L2209.9 1232.6L2224.1 1235.2L2237.6 1240.0L2250.0 1247.0L2260.9 1256.3L2270.0 1267.3L2277.3 1279.9L2282.6 1293.4L2286.3 1307.5L2288.4 1321.7L2289.2 1335.7L2289.1 1349.3L2288.1 1362.3L2286.6 1374.7L2284.6 1386.5L2282.3 1397.7L2279.8 1408.4L2277.2 1418.5Z" fill="#ffaa6e"/>
<path d="M2270.8 1428.4L2268.1 1437.5L2265.3 1446.3L2262.5 1454.9L2259.6 1463.4L2256.7 1471.7L2253.6 1479.9L2250.5 1488.2L2247.1 1496.4L2243.5 1504.7L2239.7 1513.1L2235.5 1521.5L2230.9 1530.0L2225.9 1538.5L2220.3 1547.1L2214.2 1555.5L2207.5 1563.9L2200.1 1572.1L2192.1 1580.0L2183.3 1587.5L2173.8 1594.6L2163.7 1601.1L2152.8 1606.9L2141.4 1612.0L2129.3 1616.3L2116.8 1619.6L2103.8 1622.0L2090.6 1623.2L2077.1 1623.3L2063.6 1622.1L2050.1 1619.6L2037.0 1615.6L2024.4 1610.1L2012.6 1603.1L2001.8 1594.7L1992.2 1584.8L1984.0 1573.7L1977.4 1561.7L1972.3 1548.9L1968.8 1535.7L1966.7 1522.3L1965.8 1509.1L1966.1 1496.0L1967.4 1483.4L1969.4 1471.3L1971.9 1459.7L1975.0 1448.8L1978.3 1438.3L1981.9 1428.4L1985.7 1419.0L1989.7 1410.1L1993.7 1401.5L1997.8 1393.2L2002.0 1385.2L2006.3 1377.5L2010.7 1370.0L2015.2 1362.6L2019.9 1355.3L2024.7 1348.2L2029.7 1341.1L2034.9 1334.1L2040.4 1327.1L2046.2 1320.2L2052.4 1313.2L2058.8 1306.4L2065.8 1299.5L2073.1 1292.7L2081.0 1286.0L2089.4 1279.4L2098.4 1272.9L2108.0 1266.5L2118.3 1260.4L2129.3 1254.7L2141.1 1249.4L2153.5 1244.8L2166.6 1241.0L2180.3 1238.3L2194.3 1237.0L2208.4 1237.5L2222.3 1239.9L2235.6 1244.4L2247.7 1251.3L2258.4 1260.2L2267.4 1271.0L2274.4 1283.3L2279.6 1296.6L2283.1 1310.5L2285.0 1324.4L2285.7 1338.1L2285.4 1351.5L2284.4 1364.2L2282.8 1376.3L2280.8 1387.9L2278.5 1398.8L2276.0 1409.1L2273.4 1419.0Z" fill="#ffa264"/>
<path d="M2267.1 1428.6L2264.5 1437.5L2261.8 1446.0L2259.1 1454.3L2256.3 1462.5L2253.5 1470.6L2250.6 1478.7L2247.5 1486.7L2244.3 1494.8L2240.9 1502.9L2237.1 1511.0L2233.1 1519.2L2228.7 1527.5L2223.8 1535.8L2218.4 1544.1L2212.5 1552.4L2205.9 1560.6L2198.8 1568.5L2190.9 1576.2L2182.4 1583.6L2173.1 1590.5L2163.2 1596.8L2152.7 1602.5L2141.5 1607.5L2129.8 1611.7L2117.5 1615.0L2104.9 1617.4L2092.0 1618.7L2078.8 1618.8L2065.6 1617.7L2052.5 1615.2L2039.7 1611.3L2027.4 1605.9L2015.9 1599.0L2005.5 1590.6L1996.3 1580.8L1988.5 1569.9L1982.2 1558.1L1977.4 1545.5L1974.2 1532.6L1972.3 1519.6L1971.6 1506.6L1972.0 1494.0L1973.2 1481.8L1975.1 1470.1L1977.6 1458.9L1980.5 1448.3L1983.6 1438.2L1987.1 1428.6L1990.6 1419.5L1994.4 1410.8L1998.2 1402.4L2002.1 1394.4L2006.1 1386.6L2010.1 1379.1L2014.3 1371.7L2018.7 1364.5L2023.1 1357.4L2027.8 1350.4L2032.6 1343.4L2037.7 1336.6L2043.0 1329.7L2048.7 1323.0L2054.7 1316.2L2061.0 1309.6L2067.8 1302.9L2075.0 1296.3L2082.6 1289.8L2090.8 1283.4L2099.6 1277.1L2109.0 1271.0L2119.0 1265.1L2129.8 1259.5L2141.2 1254.4L2153.3 1249.8L2166.1 1246.1L2179.4 1243.4L2193.1 1242.0L2206.9 1242.3L2220.5 1244.5L2233.5 1248.9L2245.5 1255.5L2256.0 1264.2L2264.7 1274.8L2271.6 1286.8L2276.6 1299.9L2279.9 1313.5L2281.6 1327.1L2282.2 1340.6L2281.8 1353.7L2280.7 1366.1L2279.0 1378.0L2277.0 1389.2L2274.7 1399.8L2272.3 1409.9L2269.7 1419.5Z" fill="#ff9b5a"/>
<path d="M2263.5 1428.8L2260.9 1437.4L2258.3 1445.7L2255.7 1453.8L2253.0 1461.7L2250.3 1469.6L2247.5 1477.4L2244.6 1485.2L2241.5 1493.1L2238.2 1501.0L2234.6 1508.9L2230.7 1516.9L2226.4 1525.0L2221.7 1533.1L2216.5 1541.2L2210.7 1549.3L2204.4 1557.2L2197.4 1565.0L2189.7 1572.5L2181.4 1579.7L2172.4 1586.4L2162.8 1592.6L2152.5 1598.2L2141.6 1603.1L2130.2 1607.2L2118.3 1610.5L2106.0 1612.8L2093.4 1614.1L2080.5 1614.3L2067.6 1613.2L2054.8 1610.8L2042.3 1607.0L2030.4 1601.7L2019.3 1594.8L2009.2 1586.5L2000.3 1576.9L1992.9 1566.1L1987.0 1554.4L1982.5 1542.1L1979.5 1529.5L1977.9 1516.8L1977.3 1504.2L1977.8 1492.0L1979.0 1480.1L1980.9 1468.8L1983.2 1458.0L1986.0 1447.8L1989.0 1438.1L1992.2 1428.8L1995.5 1420.0L1999.0 1411.5L2002.6 1403.4L2006.3 1395.6L2010.1 1388.0L2013.9 1380.7L2017.9 1373.4L2022.1 1366.4L2026.4 1359.4L2030.8 1352.6L2035.5 1345.8L2040.4 1339.1L2045.6 1332.4L2051.1 1325.8L2057.0 1319.2L2063.2 1312.7L2069.8 1306.3L2076.8 1299.9L2084.3 1293.6L2092.3 1287.4L2100.9 1281.3L2110.0 1275.4L2119.8 1269.7L2130.2 1264.3L2141.3 1259.4L2153.1 1254.9L2165.5 1251.2L2178.5 1248.5L2191.9 1247.1L2205.4 1247.2L2218.8 1249.2L2231.5 1253.3L2243.2 1259.7L2253.5 1268.1L2262.1 1278.5L2268.7 1290.3L2273.5 1303.1L2276.6 1316.5L2278.3 1329.9L2278.7 1343.1L2278.2 1355.8L2276.9 1368.0L2275.2 1379.6L2273.2 1390.5L2270.9 1400.8L2268.5 1410.6L2266.0 1419.9Z" fill="#ff9450"/>
<path d="M2259.8 1429.0L2257.3 1437.3L2254.8 1445.3L2252.3 1453.2L2249.8 1460.9L2247.2 1468.6L2244.5 1476.2L2241.7 1483.8L2238.7 1491.4L2235.5 1499.1L2232.1 1506.8L2228.3 1514.6L2224.2 1522.5L2219.6 1530.4L2214.5 1538.3L2208.9 1546.2L2202.8 1553.9L2196.0 1561.5L2188.6 1568.8L2180.5 1575.7L2171.7 1582.3L2162.3 1588.3L2152.3 1593.8L2141.8 1598.6L2130.7 1602.6L2119.1 1605.9L2107.1 1608.2L2094.7 1609.5L2082.2 1609.7L2069.6 1608.7L2057.2 1606.4L2045.0 1602.7L2033.4 1597.4L2022.6 1590.7L2012.9 1582.5L2004.4 1572.9L1997.4 1562.3L1991.8 1550.8L1987.7 1538.7L1984.9 1526.4L1983.5 1514.0L1983.1 1501.8L1983.6 1489.9L1984.8 1478.5L1986.6 1467.6L1988.9 1457.2L1991.5 1447.3L1994.3 1437.9L1997.3 1429.0L2000.4 1420.5L2003.7 1412.3L2007.1 1404.4L2010.5 1396.8L2014.1 1389.4L2017.7 1382.2L2021.5 1375.2L2025.5 1368.3L2029.6 1361.5L2033.9 1354.8L2038.4 1348.1L2043.2 1341.6L2048.3 1335.0L2053.6 1328.6L2059.3 1322.2L2065.4 1315.9L2071.8 1309.7L2078.7 1303.5L2086.0 1297.4L2093.8 1291.4L2102.1 1285.6L2111.0 1279.9L2120.5 1274.4L2130.7 1269.2L2141.4 1264.3L2152.9 1260.0L2165.0 1256.3L2177.6 1253.6L2190.7 1252.1L2203.9 1252.1L2217.0 1253.9L2229.5 1257.8L2241.0 1263.9L2251.1 1272.1L2259.4 1282.2L2265.9 1293.8L2270.5 1306.3L2273.4 1319.4L2274.9 1332.6L2275.2 1345.6L2274.5 1358.0L2273.2 1369.9L2271.5 1381.2L2269.4 1391.8L2267.1 1401.9L2264.7 1411.3L2262.3 1420.4Z" fill="#ff8c46"/>
<path d="M2257.3 1429.3L2254.9 1437.4L2252.5 1445.2L2250.0 1452.8L2247.6 1460.3L2245.1 1467.7L2242.4 1475.1L2239.7 1482.5L2236.8 1489.9L2233.7 1497.3L2230.4 1504.8L2226.8 1512.4L2222.7 1520.1L2218.3 1527.8L2213.4 1535.5L2208.0 1543.2L2202.1 1550.8L2195.5 1558.2L2188.3 1565.4L2180.5 1572.3L2172.0 1578.8L2162.9 1584.8L2153.2 1590.3L2142.8 1595.1L2132.0 1599.1L2120.6 1602.3L2108.9 1604.5L2096.9 1605.7L2084.7 1605.8L2072.4 1604.6L2060.4 1602.1L2048.7 1598.2L2037.5 1592.9L2027.2 1586.2L2017.8 1578.0L2009.7 1568.7L2002.9 1558.3L1997.5 1547.2L1993.5 1535.6L1990.8 1523.6L1989.2 1511.7L1988.7 1500.0L1989.0 1488.5L1990.1 1477.5L1991.7 1466.9L1993.7 1456.8L1996.1 1447.2L1998.7 1438.0L2001.5 1429.3L2004.5 1421.0L2007.6 1412.9L2010.9 1405.2L2014.3 1397.8L2017.7 1390.5L2021.3 1383.5L2025.1 1376.6L2029.0 1369.8L2033.0 1363.2L2037.3 1356.6L2041.7 1350.2L2046.4 1343.8L2051.4 1337.4L2056.6 1331.2L2062.2 1324.9L2068.1 1318.8L2074.4 1312.7L2081.1 1306.6L2088.3 1300.7L2095.9 1294.8L2104.1 1289.0L2112.7 1283.4L2122.0 1277.9L2132.0 1272.8L2142.5 1267.9L2153.8 1263.6L2165.6 1260.1L2178.0 1257.4L2190.8 1256.0L2203.7 1256.1L2216.4 1258.1L2228.5 1262.1L2239.5 1268.3L2249.2 1276.6L2257.1 1286.6L2263.3 1298.0L2267.6 1310.3L2270.4 1323.1L2271.8 1335.9L2272.0 1348.5L2271.4 1360.6L2270.1 1372.1L2268.5 1383.0L2266.5 1393.3L2264.3 1403.0L2262.0 1412.2L2259.7 1420.9Z" fill="#ff8442"/>
<path d="M2254.8 1429.6L2252.4 1437.4L2250.1 1445.0L2247.8 1452.4L2245.4 1459.7L2242.9 1466.9L2240.4 1474.0L2237.8 1481.2L2235.0 1488.3L2232.0 1495.6L2228.7 1502.9L2225.2 1510.2L2221.3 1517.7L2217.1 1525.2L2212.3 1532.7L2207.1 1540.2L2201.4 1547.6L2195.1 1554.9L2188.1 1562.0L2180.5 1568.9L2172.3 1575.3L2163.5 1581.3L2154.0 1586.8L2143.9 1591.6L2133.3 1595.6L2122.2 1598.7L2110.7 1600.9L2099.0 1602.0L2087.1 1601.9L2075.3 1600.5L2063.6 1597.9L2052.3 1593.8L2041.6 1588.4L2031.7 1581.7L2022.8 1573.6L2015.0 1564.5L2008.5 1554.4L2003.3 1543.6L1999.4 1532.4L1996.6 1520.9L1995.0 1509.4L1994.4 1498.1L1994.5 1487.1L1995.3 1476.5L1996.7 1466.2L1998.5 1456.4L2000.7 1447.1L2003.1 1438.2L2005.8 1429.6L2008.6 1421.5L2011.6 1413.6L2014.7 1406.0L2018.0 1398.7L2021.4 1391.6L2024.9 1384.8L2028.6 1378.0L2032.4 1371.4L2036.4 1364.9L2040.6 1358.5L2045.0 1352.2L2049.7 1346.0L2054.5 1339.8L2059.7 1333.7L2065.1 1327.7L2070.9 1321.6L2077.1 1315.7L2083.6 1309.8L2090.6 1303.9L2098.0 1298.1L2106.0 1292.4L2114.5 1286.9L2123.6 1281.5L2133.3 1276.3L2143.6 1271.6L2154.6 1267.3L2166.3 1263.8L2178.4 1261.2L2190.9 1259.9L2203.4 1260.2L2215.8 1262.3L2227.5 1266.5L2238.1 1272.8L2247.3 1281.0L2254.9 1291.0L2260.7 1302.2L2264.8 1314.3L2267.4 1326.7L2268.6 1339.2L2268.8 1351.4L2268.3 1363.1L2267.1 1374.2L2265.5 1384.8L2263.6 1394.7L2261.5 1404.1L2259.3 1413.0L2257.0 1421.5Z" fill="#ff7d3e"/>
<path d="M2252.2 1429.9L2250.0 1437.5L2247.8 1444.8L2245.5 1452.0L2243.2 1459.0L2240.8 1466.0L2238.4 1472.9L2235.8 1479.9L2233.1 1486.8L2230.2 1493.8L2227.0 1500.9L2223.6 1508.0L2219.9 1515.2L2215.8 1522.5L2211.3 1529.8L2206.2 1537.2L2200.7 1544.5L2194.6 1551.6L2187.9 1558.7L2180.6 1565.4L2172.6 1571.8L2164.0 1577.8L2154.8 1583.3L2145.0 1588.0L2134.6 1592.0L2123.8 1595.1L2112.6 1597.2L2101.1 1598.2L2089.6 1598.0L2078.1 1596.4L2066.8 1593.6L2055.9 1589.4L2045.7 1583.9L2036.2 1577.1L2027.7 1569.2L2020.3 1560.3L2014.1 1550.5L2009.0 1540.0L2005.2 1529.2L2002.5 1518.2L2000.8 1507.2L2000.0 1496.3L2000.0 1485.7L2000.6 1475.4L2001.7 1465.5L2003.3 1456.0L2005.3 1447.0L2007.5 1438.3L2010.0 1429.9L2012.7 1421.9L2015.5 1414.3L2018.6 1406.9L2021.7 1399.7L2025.1 1392.8L2028.5 1386.0L2032.2 1379.4L2035.9 1373.0L2039.9 1366.6L2044.0 1360.4L2048.3 1354.3L2052.9 1348.2L2057.7 1342.2L2062.7 1336.3L2068.1 1330.4L2073.7 1324.5L2079.7 1318.7L2086.1 1312.9L2092.9 1307.2L2100.2 1301.5L2107.9 1295.9L2116.2 1290.3L2125.1 1285.0L2134.6 1279.9L2144.7 1275.2L2155.5 1271.0L2166.9 1267.5L2178.8 1265.0L2191.0 1263.9L2203.2 1264.3L2215.2 1266.6L2226.4 1270.9L2236.6 1277.2L2245.4 1285.5L2252.6 1295.4L2258.1 1306.5L2261.9 1318.3L2264.3 1330.4L2265.5 1342.5L2265.7 1354.2L2265.1 1365.6L2264.0 1376.3L2262.4 1386.5L2260.6 1396.2L2258.7 1405.3L2256.6 1413.9L2254.4 1422.1Z" fill="#ff763a"/>
<path d="M2249.7 1430.2L2247.6 1437.6L2245.4 1444.7L2243.2 1451.6L2241.0 1458.4L2238.7 1465.2L2236.3 1471.9L2233.8 1478.6L2231.2 1485.3L2228.4 1492.1L2225.4 1498.9L2222.1 1505.8L2218.5 1512.8L2214.5 1519.9L2210.2 1527.0L2205.3 1534.2L2200.0 1541.3L2194.1 1548.4L2187.7 1555.3L2180.6 1562.0L2172.9 1568.4L2164.6 1574.3L2155.6 1579.8L2146.0 1584.5L2135.9 1588.5L2125.3 1591.6L2114.4 1593.6L2103.2 1594.4L2092.0 1594.0L2080.9 1592.3L2070.0 1589.3L2059.6 1585.0L2049.8 1579.4L2040.8 1572.6L2032.7 1564.8L2025.6 1556.0L2019.6 1546.5L2014.8 1536.5L2011.0 1526.1L2008.3 1515.5L2006.6 1504.9L2005.6 1494.5L2005.4 1484.3L2005.8 1474.4L2006.8 1464.9L2008.1 1455.7L2009.9 1446.8L2011.9 1438.4L2014.2 1430.2L2016.7 1422.4L2019.5 1414.9L2022.4 1407.7L2025.5 1400.7L2028.7 1393.9L2032.1 1387.3L2035.7 1380.8L2039.4 1374.5L2043.3 1368.4L2047.4 1362.3L2051.6 1356.3L2056.1 1350.5L2060.8 1344.6L2065.8 1338.8L2071.0 1333.1L2076.5 1327.4L2082.4 1321.7L2088.6 1316.0L2095.2 1310.4L2102.3 1304.8L2109.8 1299.3L2117.9 1293.8L2126.6 1288.5L2135.9 1283.5L2145.8 1278.8L2156.4 1274.6L2167.5 1271.2L2179.1 1268.8L2191.1 1267.8L2203.0 1268.3L2214.5 1270.8L2225.4 1275.2L2235.2 1281.7L2243.5 1290.0L2250.3 1299.8L2255.5 1310.7L2259.1 1322.2L2261.3 1334.0L2262.4 1345.7L2262.5 1357.1L2262.0 1368.1L2260.9 1378.5L2259.4 1388.3L2257.7 1397.6L2255.9 1406.4L2253.9 1414.7L2251.8 1422.7Z" fill="#ff6e36"/>
<path d="M2247.2 1430.6L2245.2 1437.6L2243.1 1444.5L2241.0 1451.2L2238.8 1457.8L2236.6 1464.3L2234.3 1470.8L2231.9 1477.3L2229.3 1483.8L2226.6 1490.3L2223.7 1496.9L2220.5 1503.6L2217.1 1510.4L2213.2 1517.3L2209.1 1524.2L2204.4 1531.2L2199.3 1538.1L2193.7 1545.1L2187.5 1551.9L2180.7 1558.5L2173.2 1564.9L2165.1 1570.8L2156.4 1576.3L2147.1 1581.0L2137.2 1585.0L2126.9 1588.0L2116.2 1589.9L2105.4 1590.7L2094.5 1590.1L2083.7 1588.2L2073.2 1585.1L2063.2 1580.6L2053.9 1574.9L2045.3 1568.1L2037.6 1560.4L2030.9 1551.8L2025.2 1542.6L2020.5 1532.9L2016.9 1522.9L2014.2 1512.8L2012.3 1502.7L2011.3 1492.7L2010.9 1482.9L2011.1 1473.4L2011.8 1464.2L2012.9 1455.3L2014.5 1446.7L2016.3 1438.5L2018.4 1430.6L2020.8 1422.9L2023.4 1415.6L2026.2 1408.5L2029.2 1401.6L2032.4 1395.0L2035.7 1388.5L2039.2 1382.2L2042.9 1376.1L2046.7 1370.1L2050.7 1364.2L2054.9 1358.4L2059.3 1352.7L2063.9 1347.0L2068.8 1341.4L2073.9 1335.8L2079.3 1330.3L2085.0 1324.7L2091.1 1319.2L2097.5 1313.7L2104.4 1308.2L2111.8 1302.7L2119.7 1297.3L2128.1 1292.1L2137.2 1287.1L2146.9 1282.4L2157.3 1278.3L2168.2 1274.9L2179.5 1272.7L2191.1 1271.7L2202.7 1272.4L2213.9 1275.0L2224.4 1279.6L2233.7 1286.1L2241.6 1294.5L2248.0 1304.2L2252.9 1314.9L2256.2 1326.2L2258.3 1337.7L2259.3 1349.0L2259.4 1360.0L2258.8 1370.6L2257.8 1380.6L2256.4 1390.1L2254.8 1399.0L2253.0 1407.5L2251.2 1415.6L2249.2 1423.2Z" fill="#ff6632"/>
<path d="M2244.7 1430.9L2242.7 1437.7L2240.7 1444.3L2238.7 1450.8L2236.6 1457.2L2234.5 1463.5L2232.3 1469.7L2229.9 1476.0L2227.5 1482.2L2224.8 1488.6L2222.0 1494.9L2219.0 1501.4L2215.6 1508.0L2212.0 1514.6L2208.0 1521.4L2203.5 1528.2L2198.6 1535.0L2193.2 1541.8L2187.3 1548.5L2180.7 1555.1L2173.5 1561.4L2165.7 1567.3L2157.2 1572.8L2148.1 1577.5L2138.5 1581.5L2128.5 1584.4L2118.1 1586.3L2107.5 1586.9L2096.9 1586.2L2086.5 1584.1L2076.4 1580.8L2066.9 1576.2L2058.0 1570.4L2049.8 1563.6L2042.5 1556.0L2036.2 1547.6L2030.8 1538.6L2026.3 1529.3L2022.7 1519.7L2020.0 1510.0L2018.1 1500.4L2016.9 1490.9L2016.3 1481.5L2016.3 1472.4L2016.8 1463.5L2017.7 1454.9L2019.1 1446.6L2020.7 1438.6L2022.7 1430.9L2024.9 1423.4L2027.4 1416.2L2030.1 1409.3L2033.0 1402.6L2036.1 1396.1L2039.3 1389.8L2042.8 1383.6L2046.4 1377.7L2050.1 1371.8L2054.1 1366.1L2058.2 1360.5L2062.6 1354.9L2067.1 1349.4L2071.8 1344.0L2076.8 1338.5L2082.1 1333.1L2087.7 1327.7L2093.6 1322.3L2099.8 1316.9L2106.5 1311.5L2113.7 1306.1L2121.4 1300.8L2129.7 1295.6L2138.5 1290.6L2148.0 1286.0L2158.1 1282.0L2168.8 1278.7L2179.9 1276.5L2191.2 1275.6L2202.5 1276.5L2213.3 1279.2L2223.3 1284.0L2232.3 1290.6L2239.8 1298.9L2245.8 1308.6L2250.3 1319.1L2253.4 1330.2L2255.2 1341.3L2256.1 1352.3L2256.2 1362.9L2255.7 1373.1L2254.7 1382.7L2253.4 1391.9L2251.9 1400.5L2250.2 1408.7L2248.5 1416.4L2246.6 1423.8Z" fill="#ff5f2e"/>
<path d="M2242.2 1431.2L2240.3 1437.8L2238.4 1444.2L2236.5 1450.4L2234.5 1456.5L2232.4 1462.6L2230.2 1468.6L2228.0 1474.7L2225.6 1480.7L2223.1 1486.8L2220.3 1493.0L2217.4 1499.2L2214.2 1505.6L2210.7 1512.0L2206.9 1518.5L2202.6 1525.2L2197.9 1531.8L2192.8 1538.5L2187.0 1545.1L2180.7 1551.6L2173.8 1557.9L2166.2 1563.8L2158.0 1569.3L2149.2 1574.0L2139.8 1577.9L2130.0 1580.9L2119.9 1582.6L2109.6 1583.1L2099.4 1582.3L2089.3 1580.1L2079.6 1576.5L2070.5 1571.8L2062.0 1565.9L2054.4 1559.1L2047.5 1551.5L2041.5 1543.3L2036.3 1534.7L2032.1 1525.7L2028.6 1516.6L2025.9 1507.3L2023.9 1498.1L2022.5 1489.0L2021.8 1480.1L2021.6 1471.3L2021.9 1462.8L2022.6 1454.5L2023.7 1446.5L2025.1 1438.7L2026.9 1431.2L2029.0 1423.9L2031.3 1416.9L2033.9 1410.1L2036.7 1403.6L2039.7 1397.2L2042.9 1391.0L2046.3 1385.1L2049.9 1379.2L2053.6 1373.5L2057.5 1368.0L2061.5 1362.5L2065.8 1357.1L2070.2 1351.8L2074.9 1346.5L2079.7 1341.3L2084.9 1336.0L2090.3 1330.7L2096.0 1325.5L2102.1 1320.2L2108.7 1314.8L2115.6 1309.5L2123.1 1304.3L2131.2 1299.1L2139.8 1294.2L2149.1 1289.6L2159.0 1285.6L2169.4 1282.4L2180.3 1280.3L2191.3 1279.6L2202.2 1280.5L2212.7 1283.4L2222.3 1288.3L2230.8 1295.1L2237.9 1303.4L2243.5 1313.0L2247.7 1323.4L2250.5 1334.1L2252.2 1345.0L2253.0 1355.6L2253.1 1365.8L2252.6 1375.6L2251.6 1384.9L2250.4 1393.6L2249.0 1401.9L2247.4 1409.8L2245.7 1417.2L2244.0 1424.4Z" fill="#ff582a"/>
<path d="M2239.6 1431.5L2237.9 1437.8L2236.1 1444.0L2234.2 1450.0L2232.3 1455.9L2230.3 1461.8L2228.2 1467.6L2226.0 1473.4L2223.7 1479.2L2221.3 1485.0L2218.7 1491.0L2215.8 1497.0L2212.8 1503.1L2209.4 1509.4L2205.8 1515.7L2201.7 1522.2L2197.3 1528.7L2192.3 1535.2L2186.8 1541.8L2180.8 1548.2L2174.1 1554.4L2166.8 1560.3L2158.8 1565.8L2150.3 1570.5L2141.2 1574.4L2131.6 1577.3L2121.7 1579.0L2111.7 1579.3L2101.8 1578.3L2092.1 1576.0L2082.8 1572.3L2074.2 1567.4L2066.1 1561.4L2058.9 1554.6L2052.4 1547.1L2046.8 1539.1L2041.9 1530.7L2037.8 1522.1L2034.4 1513.4L2031.7 1504.6L2029.7 1495.9L2028.2 1487.2L2027.3 1478.7L2026.8 1470.3L2026.9 1462.1L2027.4 1454.1L2028.3 1446.4L2029.5 1438.8L2031.1 1431.5L2033.1 1424.4L2035.3 1417.6L2037.7 1410.9L2040.4 1404.5L2043.4 1398.3L2046.5 1392.3L2049.8 1386.5L2053.3 1380.8L2057.0 1375.3L2060.8 1369.9L2064.8 1364.6L2069.0 1359.4L2073.4 1354.2L2077.9 1349.1L2082.7 1344.0L2087.7 1338.9L2092.9 1333.7L2098.5 1328.6L2104.5 1323.4L2110.8 1318.2L2117.6 1313.0L2124.9 1307.8L2132.7 1302.7L2141.2 1297.8L2150.2 1293.3L2159.9 1289.3L2170.1 1286.1L2180.7 1284.1L2191.4 1283.5L2202.0 1284.6L2212.1 1287.7L2221.3 1292.7L2229.3 1299.5L2236.0 1307.9L2241.2 1317.4L2245.1 1327.6L2247.6 1338.1L2249.2 1348.6L2249.9 1358.8L2249.9 1368.7L2249.4 1378.1L2248.6 1387.0L2247.4 1395.4L2246.1 1403.4L2244.6 1410.9L2243.0 1418.1L2241.4 1424.9Z" fill="#ff5026"/>
<path d="M2237.5 1431.5L2235.7 1437.7L2233.9 1443.7L2232.1 1449.5L2230.2 1455.3L2228.3 1461.0L2226.3 1466.6L2224.2 1472.3L2222.0 1477.9L2219.6 1483.6L2217.1 1489.4L2214.4 1495.3L2211.4 1501.3L2208.2 1507.4L2204.6 1513.7L2200.7 1520.0L2196.4 1526.4L2191.6 1532.9L2186.3 1539.3L2180.4 1545.6L2173.9 1551.8L2166.7 1557.6L2158.9 1563.0L2150.6 1567.6L2141.6 1571.4L2132.3 1574.2L2122.6 1575.8L2112.9 1576.1L2103.2 1575.1L2093.7 1572.6L2084.7 1569.0L2076.3 1564.1L2068.5 1558.3L2061.4 1551.6L2055.1 1544.3L2049.6 1536.5L2044.9 1528.3L2040.8 1519.9L2037.5 1511.5L2034.8 1502.9L2032.7 1494.4L2031.2 1486.0L2030.3 1477.7L2029.8 1469.5L2029.8 1461.5L2030.3 1453.7L2031.1 1446.1L2032.3 1438.7L2033.9 1431.5L2035.8 1424.6L2038.0 1417.9L2040.4 1411.4L2043.1 1405.1L2046.0 1399.1L2049.1 1393.2L2052.4 1387.5L2055.8 1382.0L2059.4 1376.6L2063.2 1371.4L2067.2 1366.2L2071.3 1361.2L2075.5 1356.2L2080.0 1351.2L2084.7 1346.3L2089.6 1341.3L2094.7 1336.4L2100.1 1331.4L2105.9 1326.4L2112.1 1321.3L2118.7 1316.2L2125.8 1311.1L2133.4 1306.1L2141.6 1301.3L2150.5 1296.8L2159.9 1292.8L2169.9 1289.6L2180.2 1287.4L2190.8 1286.7L2201.3 1287.6L2211.2 1290.4L2220.3 1295.3L2228.2 1301.9L2234.8 1310.1L2239.9 1319.5L2243.6 1329.6L2246.0 1340.0L2247.4 1350.4L2248.0 1360.5L2247.9 1370.2L2247.4 1379.4L2246.4 1388.1L2245.3 1396.4L2243.9 1404.1L2242.4 1411.5L2240.8 1418.5L2239.2 1425.2Z" fill="#ff4628"/>
<path d="M2235.3 1431.6L2233.5 1437.6L2231.8 1443.4L2230.0 1449.1L2228.2 1454.7L2226.3 1460.2L2224.4 1465.7L2222.3 1471.2L2220.2 1476.7L2217.9 1482.2L2215.5 1487.9L2212.9 1493.7L2210.0 1499.5L2206.9 1505.5L2203.5 1511.6L2199.7 1517.8L2195.5 1524.1L2190.9 1530.5L2185.7 1536.8L2180.0 1543.1L2173.6 1549.2L2166.6 1554.9L2159.0 1560.2L2150.8 1564.7L2142.1 1568.5L2133.0 1571.2L2123.5 1572.7L2114.0 1572.9L2104.5 1571.8L2095.4 1569.3L2086.6 1565.7L2078.4 1560.9L2070.8 1555.1L2063.9 1548.6L2057.8 1541.5L2052.4 1533.8L2047.8 1525.9L2043.8 1517.8L2040.6 1509.5L2037.9 1501.2L2035.8 1493.0L2034.3 1484.7L2033.3 1476.7L2032.8 1468.7L2032.8 1460.9L2033.2 1453.3L2034.0 1445.8L2035.1 1438.6L2036.7 1431.6L2038.5 1424.8L2040.6 1418.2L2043.0 1411.9L2045.7 1405.8L2048.6 1399.8L2051.6 1394.1L2054.9 1388.6L2058.3 1383.2L2061.9 1378.0L2065.6 1372.9L2069.5 1367.9L2073.5 1363.0L2077.7 1358.2L2082.1 1353.4L2086.7 1348.6L2091.4 1343.8L2096.5 1339.0L2101.8 1334.2L2107.4 1329.3L2113.4 1324.4L2119.8 1319.4L2126.7 1314.5L2134.1 1309.6L2142.1 1304.8L2150.7 1300.3L2159.9 1296.3L2169.7 1293.1L2179.8 1290.8L2190.2 1289.9L2200.5 1290.6L2210.3 1293.2L2219.3 1297.8L2227.2 1304.3L2233.6 1312.4L2238.5 1321.6L2242.1 1331.6L2244.4 1341.9L2245.7 1352.1L2246.1 1362.1L2245.9 1371.6L2245.3 1380.7L2244.3 1389.3L2243.1 1397.3L2241.7 1404.9L2240.2 1412.1L2238.6 1418.9L2236.9 1425.4Z" fill="#ff3c2a"/>
<path d="M2233.1 1431.6L2231.4 1437.4L2229.7 1443.1L2227.9 1448.6L2226.2 1454.0L2224.3 1459.4L2222.5 1464.7L2220.5 1470.0L2218.4 1475.4L2216.3 1480.9L2213.9 1486.4L2211.4 1492.0L2208.7 1497.7L2205.7 1503.6L2202.4 1509.5L2198.7 1515.7L2194.7 1521.8L2190.2 1528.1L2185.1 1534.4L2179.6 1540.5L2173.4 1546.5L2166.6 1552.2L2159.1 1557.3L2151.1 1561.8L2142.6 1565.5L2133.6 1568.1L2124.4 1569.5L2115.1 1569.7L2105.9 1568.5L2097.0 1566.0L2088.4 1562.4L2080.5 1557.6L2073.1 1552.0L2066.4 1545.6L2060.5 1538.6L2055.3 1531.2L2050.7 1523.5L2046.8 1515.6L2043.6 1507.6L2041.0 1499.5L2038.9 1491.5L2037.4 1483.5L2036.4 1475.6L2035.8 1467.9L2035.7 1460.3L2036.1 1452.8L2036.8 1445.6L2038.0 1438.5L2039.4 1431.6L2041.2 1425.0L2043.3 1418.6L2045.7 1412.4L2048.3 1406.4L2051.2 1400.6L2054.2 1395.0L2057.4 1389.6L2060.8 1384.4L2064.3 1379.3L2068.0 1374.4L2071.8 1369.6L2075.8 1364.8L2079.9 1360.2L2084.2 1355.5L2088.7 1350.9L2093.3 1346.3L2098.2 1341.7L2103.4 1337.0L2108.9 1332.3L2114.7 1327.5L2120.9 1322.7L2127.6 1317.8L2134.8 1313.0L2142.6 1308.3L2151.0 1303.9L2159.9 1299.9L2169.5 1296.5L2179.4 1294.1L2189.6 1293.0L2199.8 1293.6L2209.5 1296.0L2218.4 1300.4L2226.1 1306.7L2232.4 1314.6L2237.2 1323.8L2240.6 1333.6L2242.8 1343.8L2243.9 1353.9L2244.3 1363.7L2244.0 1373.1L2243.2 1382.0L2242.2 1390.4L2240.9 1398.3L2239.5 1405.7L2237.9 1412.7L2236.4 1419.3L2234.7 1425.6Z" fill="#ff322c"/>
<path d="M2230.9 1431.7L2229.2 1437.3L2227.5 1442.8L2225.8 1448.1L2224.1 1453.4L2222.4 1458.6L2220.5 1463.8L2218.7 1468.9L2216.7 1474.2L2214.6 1479.5L2212.3 1484.8L2209.9 1490.3L2207.3 1495.9L2204.4 1501.6L2201.3 1507.5L2197.7 1513.5L2193.8 1519.6L2189.5 1525.7L2184.6 1531.9L2179.2 1538.0L2173.1 1543.9L2166.5 1549.5L2159.3 1554.5L2151.4 1559.0L2143.1 1562.5L2134.3 1565.0L2125.3 1566.4L2116.3 1566.4L2107.3 1565.2L2098.6 1562.7L2090.3 1559.1L2082.6 1554.4L2075.4 1548.8L2069.0 1542.6L2063.2 1535.8L2058.1 1528.6L2053.7 1521.1L2049.9 1513.4L2046.7 1505.7L2044.1 1497.8L2042.0 1490.0L2040.4 1482.3L2039.4 1474.6L2038.8 1467.1L2038.7 1459.6L2039.0 1452.4L2039.7 1445.3L2040.8 1438.4L2042.2 1431.7L2044.0 1425.2L2046.0 1418.9L2048.4 1412.8L2050.9 1407.0L2053.7 1401.4L2056.7 1395.9L2059.9 1390.7L2063.3 1385.6L2066.8 1380.7L2070.4 1375.9L2074.2 1371.2L2078.1 1366.7L2082.1 1362.1L2086.3 1357.7L2090.7 1353.2L2095.2 1348.8L2100.0 1344.3L2105.0 1339.8L2110.3 1335.2L2116.0 1330.6L2122.0 1325.9L2128.5 1321.2L2135.5 1316.5L2143.1 1311.9L2151.2 1307.4L2160.0 1303.4L2169.3 1300.0L2179.0 1297.5L2189.1 1296.2L2199.0 1296.6L2208.6 1298.8L2217.4 1303.0L2225.0 1309.1L2231.2 1316.9L2235.9 1325.9L2239.1 1335.6L2241.2 1345.7L2242.2 1355.6L2242.4 1365.3L2242.0 1374.6L2241.2 1383.3L2240.0 1391.5L2238.7 1399.2L2237.3 1406.4L2235.7 1413.2L2234.1 1419.7L2232.5 1425.8Z" fill="#ff282e"/>
<path d="M2228.7 1431.7L2227.0 1437.2L2225.4 1442.5L2223.7 1447.7L2222.1 1452.8L2220.4 1457.8L2218.6 1462.8L2216.8 1467.8L2214.9 1472.9L2212.9 1478.1L2210.8 1483.3L2208.4 1488.6L2205.9 1494.1L2203.2 1499.7L2200.1 1505.4L2196.7 1511.3L2193.0 1517.3L2188.7 1523.4L2184.0 1529.4L2178.8 1535.4L2172.9 1541.2L2166.4 1546.7L2159.4 1551.7L2151.7 1556.1L2143.6 1559.5L2135.0 1562.0L2126.2 1563.2L2117.4 1563.2L2108.7 1561.9L2100.2 1559.4L2092.2 1555.8L2084.7 1551.1L2077.8 1545.7L2071.5 1539.6L2065.9 1532.9L2060.9 1525.9L2056.6 1518.7L2052.9 1511.2L2049.7 1503.7L2047.1 1496.1L2045.1 1488.6L2043.5 1481.1L2042.4 1473.6L2041.8 1466.3L2041.6 1459.0L2041.9 1451.9L2042.5 1445.0L2043.6 1438.3L2045.0 1431.7L2046.7 1425.4L2048.7 1419.2L2051.0 1413.3L2053.6 1407.6L2056.3 1402.1L2059.3 1396.8L2062.5 1391.7L2065.8 1386.8L2069.2 1382.0L2072.8 1377.4L2076.5 1372.9L2080.3 1368.5L2084.3 1364.1L2088.4 1359.8L2092.7 1355.5L2097.1 1351.3L2101.8 1346.9L2106.6 1342.6L2111.8 1338.2L2117.3 1333.7L2123.2 1329.1L2129.4 1324.5L2136.2 1319.9L2143.6 1315.4L2151.5 1311.0L2160.0 1306.9L2169.1 1303.5L2178.6 1300.8L2188.5 1299.4L2198.3 1299.6L2207.8 1301.5L2216.4 1305.5L2223.9 1311.5L2230.0 1319.1L2234.5 1328.0L2237.7 1337.6L2239.5 1347.5L2240.4 1357.4L2240.5 1366.9L2240.0 1376.0L2239.1 1384.6L2237.9 1392.6L2236.5 1400.2L2235.1 1407.2L2233.5 1413.8L2231.9 1420.1L2230.3 1426.0Z" fill="#ff1e31"/>
<path d="M2226.5 1431.8L2224.9 1437.1L2223.3 1442.2L2221.7 1447.2L2220.0 1452.1L2218.4 1457.0L2216.7 1461.9L2215.0 1466.7L2213.2 1471.7L2211.2 1476.7L2209.2 1481.7L2207.0 1487.0L2204.6 1492.3L2201.9 1497.8L2199.0 1503.4L2195.7 1509.1L2192.1 1515.0L2188.0 1521.0L2183.5 1527.0L2178.4 1532.9L2172.7 1538.6L2166.4 1544.0L2159.5 1548.9L2152.0 1553.2L2144.0 1556.6L2135.7 1558.9L2127.1 1560.1L2118.5 1560.0L2110.0 1558.6L2101.8 1556.1L2094.0 1552.5L2086.8 1547.9L2080.1 1542.5L2074.0 1536.6L2068.6 1530.1L2063.7 1523.3L2059.5 1516.3L2055.9 1509.1L2052.8 1501.8L2050.2 1494.5L2048.1 1487.1L2046.6 1479.8L2045.5 1472.6L2044.8 1465.4L2044.6 1458.4L2044.8 1451.5L2045.4 1444.7L2046.4 1438.2L2047.7 1431.8L2049.4 1425.6L2051.4 1419.6L2053.7 1413.8L2056.2 1408.2L2058.9 1402.9L2061.9 1397.7L2065.0 1392.8L2068.2 1388.0L2071.6 1383.4L2075.2 1378.9L2078.8 1374.6L2082.6 1370.3L2086.5 1366.1L2090.5 1362.0L2094.7 1357.9L2099.0 1353.7L2103.5 1349.6L2108.3 1345.4L2113.3 1341.1L2118.6 1336.8L2124.3 1332.4L2130.4 1327.9L2136.9 1323.4L2144.0 1318.9L2151.7 1314.5L2160.0 1310.5L2168.9 1306.9L2178.2 1304.2L2187.9 1302.6L2197.6 1302.5L2206.9 1304.3L2215.4 1308.1L2222.8 1313.9L2228.7 1321.4L2233.2 1330.1L2236.2 1339.6L2237.9 1349.4L2238.7 1359.2L2238.6 1368.6L2238.0 1377.5L2237.0 1385.9L2235.8 1393.8L2234.4 1401.1L2232.8 1408.0L2231.3 1414.4L2229.7 1420.5L2228.1 1426.3Z" fill="#ff1433"/>
<path d="M2224.3 1431.8L2222.7 1436.9L2221.1 1441.9L2219.6 1446.7L2218.0 1451.5L2216.4 1456.2L2214.8 1460.9L2213.1 1465.6L2211.4 1470.4L2209.6 1475.3L2207.6 1480.2L2205.5 1485.3L2203.2 1490.5L2200.7 1495.8L2197.9 1501.3L2194.7 1507.0L2191.3 1512.7L2187.3 1518.6L2182.9 1524.5L2178.0 1530.3L2172.4 1536.0L2166.3 1541.3L2159.6 1546.1L2152.3 1550.3L2144.5 1553.6L2136.4 1555.8L2128.0 1556.9L2119.7 1556.8L2111.4 1555.4L2103.4 1552.8L2095.9 1549.2L2088.9 1544.7L2082.4 1539.4L2076.5 1533.6L2071.3 1527.3L2066.6 1520.7L2062.5 1513.9L2058.9 1506.9L2055.8 1499.9L2053.3 1492.8L2051.2 1485.7L2049.6 1478.6L2048.5 1471.6L2047.8 1464.6L2047.5 1457.8L2047.7 1451.1L2048.2 1444.5L2049.2 1438.1L2050.5 1431.8L2052.1 1425.8L2054.1 1419.9L2056.3 1414.3L2058.8 1408.8L2061.5 1403.6L2064.4 1398.6L2067.5 1393.8L2070.7 1389.2L2074.1 1384.7L2077.6 1380.4L2081.1 1376.2L2084.8 1372.1L2088.7 1368.1L2092.6 1364.1L2096.7 1360.2L2100.9 1356.2L2105.3 1352.2L2109.9 1348.2L2114.7 1344.1L2119.9 1339.9L2125.4 1335.6L2131.3 1331.2L2137.6 1326.8L2144.5 1322.4L2152.0 1318.1L2160.0 1314.0L2168.7 1310.4L2177.8 1307.5L2187.3 1305.8L2196.8 1305.5L2206.0 1307.1L2214.4 1310.7L2221.7 1316.3L2227.5 1323.6L2231.8 1332.2L2234.7 1341.6L2236.3 1351.3L2236.9 1360.9L2236.7 1370.2L2236.0 1379.0L2235.0 1387.2L2233.7 1394.9L2232.2 1402.0L2230.6 1408.7L2229.1 1415.0L2227.5 1420.9L2225.9 1426.5Z" fill="#ff0a35"/>
<path d="M2222.1 1431.8L2220.5 1436.8L2219.0 1441.6L2217.5 1446.3L2216.0 1450.9L2214.4 1455.4L2212.9 1460.0L2211.3 1464.5L2209.6 1469.2L2207.9 1473.9L2206.0 1478.7L2204.0 1483.6L2201.8 1488.7L2199.4 1493.9L2196.7 1499.3L2193.7 1504.8L2190.4 1510.5L2186.6 1516.2L2182.4 1522.0L2177.6 1527.8L2172.2 1533.3L2166.2 1538.6L2159.7 1543.3L2152.6 1547.4L2145.0 1550.6L2137.1 1552.8L2128.9 1553.8L2120.8 1553.5L2112.8 1552.1L2105.1 1549.5L2097.8 1545.9L2091.0 1541.4L2084.7 1536.3L2079.1 1530.5L2074.0 1524.4L2069.4 1518.0L2065.4 1511.5L2061.9 1504.7L2058.9 1497.9L2056.4 1491.1L2054.3 1484.2L2052.7 1477.4L2051.5 1470.6L2050.8 1463.8L2050.5 1457.2L2050.6 1450.6L2051.1 1444.2L2052.0 1437.9L2053.3 1431.8L2054.9 1425.9L2056.8 1420.2L2059.0 1414.7L2061.4 1409.5L2064.1 1404.4L2067.0 1399.5L2070.0 1394.9L2073.2 1390.4L2076.5 1386.1L2079.9 1381.9L2083.5 1377.9L2087.1 1374.0L2090.8 1370.1L2094.7 1366.3L2098.7 1362.5L2102.8 1358.7L2107.0 1354.9L2111.5 1351.0L2116.2 1347.0L2121.2 1343.0L2126.5 1338.8L2132.2 1334.6L2138.3 1330.3L2145.0 1325.9L2152.2 1321.6L2160.0 1317.5L2168.5 1313.9L2177.4 1310.9L2186.7 1309.0L2196.1 1308.5L2205.2 1309.9L2213.5 1313.3L2220.6 1318.7L2226.3 1325.9L2230.5 1334.4L2233.2 1343.6L2234.7 1353.2L2235.1 1362.7L2234.9 1371.8L2234.1 1380.4L2232.9 1388.5L2231.5 1396.0L2230.0 1403.0L2228.4 1409.5L2226.8 1415.6L2225.2 1421.3L2223.6 1426.7Z" fill="#ff0037"/>
<path d="M2219.3 1432.5L2217.9 1437.3L2216.4 1441.9L2215.0 1446.5L2213.5 1450.9L2212.1 1455.3L2210.6 1459.8L2209.1 1464.2L2207.5 1468.7L2205.9 1473.3L2204.1 1478.0L2202.2 1482.8L2200.1 1487.8L2197.8 1492.9L2195.2 1498.2L2192.3 1503.6L2189.1 1509.1L2185.4 1514.8L2181.3 1520.5L2176.6 1526.1L2171.4 1531.5L2165.5 1536.5L2159.1 1541.0L2152.2 1544.9L2144.9 1547.8L2137.2 1549.7L2129.3 1550.5L2121.5 1550.0L2113.8 1548.5L2106.4 1545.8L2099.4 1542.2L2092.9 1537.9L2086.9 1532.8L2081.5 1527.3L2076.6 1521.5L2072.2 1515.3L2068.4 1509.0L2065.0 1502.6L2062.0 1496.1L2059.5 1489.5L2057.5 1483.0L2055.8 1476.4L2054.6 1469.9L2053.8 1463.4L2053.4 1457.0L2053.5 1450.7L2053.9 1444.5L2054.6 1438.4L2055.8 1432.5L2057.3 1426.8L2059.1 1421.2L2061.2 1415.9L2063.5 1410.7L2066.1 1405.8L2068.8 1401.0L2071.8 1396.5L2074.9 1392.1L2078.1 1387.9L2081.4 1383.9L2084.9 1379.9L2088.4 1376.1L2092.1 1372.3L2095.8 1368.6L2099.7 1364.9L2103.7 1361.2L2107.8 1357.4L2112.2 1353.6L2116.8 1349.8L2121.6 1345.8L2126.8 1341.7L2132.3 1337.5L2138.3 1333.3L2144.9 1328.9L2151.9 1324.7L2159.6 1320.6L2167.8 1317.0L2176.6 1314.0L2185.7 1312.2L2194.9 1311.8L2203.7 1313.2L2211.7 1316.7L2218.6 1322.2L2224.0 1329.4L2227.9 1337.8L2230.4 1347.0L2231.7 1356.3L2232.1 1365.6L2231.8 1374.4L2230.9 1382.8L2229.8 1390.6L2228.4 1397.9L2227.0 1404.6L2225.4 1410.9L2223.9 1416.8L2222.4 1422.3L2220.8 1427.5Z" fill="#f80039"/>
<path d="M2216.6 1433.2L2215.2 1437.8L2213.8 1442.3L2212.5 1446.7L2211.1 1451.0L2209.7 1455.3L2208.4 1459.5L2206.9 1463.9L2205.4 1468.2L2203.9 1472.7L2202.2 1477.3L2200.4 1482.0L2198.4 1486.8L2196.2 1491.9L2193.7 1497.0L2190.9 1502.4L2187.8 1507.8L2184.2 1513.4L2180.2 1518.9L2175.7 1524.4L2170.5 1529.6L2164.9 1534.5L2158.6 1538.8L2151.9 1542.3L2144.7 1545.0L2137.3 1546.6L2129.7 1547.2L2122.2 1546.6L2114.8 1544.9L2107.7 1542.2L2101.0 1538.6L2094.8 1534.3L2089.1 1529.4L2083.9 1524.1L2079.3 1518.5L2075.1 1512.6L2071.3 1506.6L2068.0 1500.4L2065.2 1494.2L2062.7 1488.0L2060.7 1481.7L2059.0 1475.4L2057.7 1469.2L2056.9 1463.0L2056.4 1456.8L2056.3 1450.8L2056.6 1444.8L2057.3 1438.9L2058.3 1433.2L2059.7 1427.6L2061.4 1422.2L2063.3 1417.0L2065.6 1412.0L2068.0 1407.2L2070.7 1402.5L2073.6 1398.1L2076.6 1393.8L2079.7 1389.7L2082.9 1385.8L2086.3 1381.9L2089.7 1378.2L2093.3 1374.5L2096.9 1370.9L2100.7 1367.3L2104.6 1363.7L2108.6 1360.0L2112.9 1356.3L2117.3 1352.5L2122.0 1348.6L2127.1 1344.6L2132.5 1340.5L2138.4 1336.2L2144.7 1332.0L2151.6 1327.7L2159.1 1323.7L2167.2 1320.1L2175.8 1317.2L2184.7 1315.3L2193.6 1315.0L2202.2 1316.6L2210.0 1320.2L2216.5 1325.7L2221.7 1332.9L2225.3 1341.3L2227.6 1350.3L2228.8 1359.5L2229.0 1368.5L2228.7 1377.1L2227.8 1385.2L2226.7 1392.8L2225.4 1399.8L2223.9 1406.3L2222.5 1412.3L2221.0 1418.0L2219.5 1423.3L2218.0 1428.4Z" fill="#f2003a"/>
<path d="M2213.9 1433.8L2212.6 1438.3L2211.3 1442.6L2210.0 1446.9L2208.7 1451.0L2207.4 1455.2L2206.1 1459.3L2204.7 1463.5L2203.3 1467.8L2201.9 1472.1L2200.3 1476.6L2198.5 1481.2L2196.7 1485.9L2194.6 1490.8L2192.2 1495.9L2189.5 1501.1L2186.5 1506.5L2183.1 1511.9L2179.1 1517.3L2174.7 1522.7L2169.7 1527.7L2164.2 1532.4L2158.1 1536.5L2151.5 1539.8L2144.6 1542.2L2137.4 1543.6L2130.1 1543.9L2122.8 1543.1L2115.8 1541.2L2109.0 1538.5L2102.7 1535.0L2096.8 1530.8L2091.3 1526.0L2086.4 1520.9L2081.9 1515.5L2077.9 1509.9L2074.3 1504.1L2071.1 1498.3L2068.3 1492.4L2065.9 1486.4L2063.8 1480.5L2062.2 1474.5L2060.8 1468.5L2059.9 1462.6L2059.4 1456.7L2059.2 1450.8L2059.4 1445.1L2059.9 1439.4L2060.8 1433.8L2062.1 1428.4L2063.7 1423.2L2065.5 1418.1L2067.6 1413.2L2070.0 1408.5L2072.6 1404.0L2075.3 1399.7L2078.2 1395.6L2081.3 1391.6L2084.4 1387.7L2087.7 1384.0L2091.0 1380.3L2094.5 1376.7L2098.0 1373.2L2101.7 1369.7L2105.5 1366.2L2109.4 1362.6L2113.5 1358.9L2117.9 1355.2L2122.5 1351.4L2127.4 1347.4L2132.7 1343.4L2138.4 1339.2L2144.6 1335.0L2151.3 1330.8L2158.7 1326.8L2166.6 1323.2L2175.0 1320.3L2183.7 1318.5L2192.4 1318.3L2200.7 1319.9L2208.2 1323.6L2214.5 1329.2L2219.3 1336.4L2222.7 1344.7L2224.8 1353.6L2225.8 1362.6L2226.0 1371.4L2225.6 1379.7L2224.7 1387.6L2223.6 1394.9L2222.3 1401.7L2220.9 1407.9L2219.5 1413.8L2218.0 1419.2L2216.6 1424.4L2215.3 1429.2Z" fill="#ec003c"/>
<path d="M2211.2 1434.5L2209.9 1438.8L2208.7 1443.0L2207.5 1447.1L2206.3 1451.1L2205.0 1455.1L2203.8 1459.1L2202.6 1463.2L2201.2 1467.3L2199.8 1471.5L2198.4 1475.9L2196.7 1480.4L2194.9 1485.0L2192.9 1489.8L2190.7 1494.8L2188.1 1499.9L2185.2 1505.2L2181.9 1510.5L2178.1 1515.8L2173.8 1520.9L2168.9 1525.9L2163.5 1530.3L2157.5 1534.2L2151.2 1537.2L2144.4 1539.4L2137.5 1540.5L2130.5 1540.6L2123.5 1539.6L2116.8 1537.6L2110.4 1534.8L2104.3 1531.3L2098.7 1527.2L2093.5 1522.6L2088.8 1517.7L2084.6 1512.5L2080.7 1507.2L2077.2 1501.7L2074.1 1496.1L2071.4 1490.5L2069.0 1484.9L2067.0 1479.2L2065.3 1473.5L2064.0 1467.8L2063.0 1462.2L2062.3 1456.5L2062.0 1450.9L2062.1 1445.3L2062.6 1439.9L2063.4 1434.5L2064.5 1429.3L2066.0 1424.2L2067.7 1419.2L2069.7 1414.5L2072.0 1409.9L2074.4 1405.5L2077.1 1401.3L2079.9 1397.3L2082.9 1393.4L2085.9 1389.6L2089.1 1386.0L2092.3 1382.4L2095.7 1379.0L2099.1 1375.5L2102.7 1372.1L2106.4 1368.6L2110.2 1365.2L2114.2 1361.6L2118.4 1358.0L2122.9 1354.2L2127.7 1350.3L2132.8 1346.3L2138.4 1342.2L2144.4 1338.0L2151.0 1333.8L2158.2 1329.9L2165.9 1326.3L2174.2 1323.4L2182.7 1321.7L2191.2 1321.6L2199.3 1323.3L2206.5 1327.0L2212.4 1332.7L2217.0 1339.9L2220.1 1348.2L2222.0 1356.9L2222.9 1365.7L2222.9 1374.3L2222.5 1382.4L2221.6 1390.0L2220.5 1397.0L2219.2 1403.5L2217.9 1409.6L2216.5 1415.2L2215.1 1420.4L2213.8 1425.4L2212.5 1430.1Z" fill="#e5003e"/>
<path d="M2208.4 1435.2L2207.3 1439.3L2206.1 1443.3L2205.0 1447.2L2203.8 1451.1L2202.7 1455.0L2201.6 1458.9L2200.4 1462.8L2199.1 1466.9L2197.8 1471.0L2196.4 1475.2L2194.9 1479.6L2193.2 1484.1L2191.3 1488.8L2189.2 1493.7L2186.7 1498.7L2183.9 1503.8L2180.7 1509.0L2177.0 1514.2L2172.8 1519.2L2168.1 1524.0L2162.8 1528.3L2157.0 1531.9L2150.8 1534.7L2144.3 1536.6L2137.6 1537.4L2130.8 1537.3L2124.2 1536.1L2117.8 1534.0L2111.7 1531.2L2106.0 1527.7L2100.6 1523.6L2095.8 1519.2L2091.3 1514.5L2087.2 1509.5L2083.5 1504.5L2080.2 1499.3L2077.2 1494.0L2074.5 1488.7L2072.2 1483.3L2070.2 1478.0L2068.5 1472.6L2067.1 1467.2L2066.0 1461.7L2065.3 1456.3L2064.9 1451.0L2064.9 1445.6L2065.2 1440.4L2065.9 1435.2L2066.9 1430.1L2068.2 1425.2L2069.9 1420.4L2071.8 1415.8L2073.9 1411.3L2076.3 1407.0L2078.9 1402.9L2081.6 1399.0L2084.4 1395.2L2087.4 1391.5L2090.5 1388.0L2093.7 1384.6L2096.9 1381.2L2100.3 1377.8L2103.7 1374.5L2107.3 1371.1L2111.0 1367.7L2114.9 1364.3L2119.0 1360.7L2123.3 1357.0L2128.0 1353.2L2133.0 1349.2L2138.4 1345.2L2144.3 1341.0L2150.7 1336.9L2157.7 1332.9L2165.3 1329.4L2173.4 1326.6L2181.7 1324.9L2190.0 1324.8L2197.8 1326.6L2204.7 1330.5L2210.4 1336.2L2214.7 1343.5L2217.5 1351.6L2219.2 1360.2L2219.9 1368.8L2219.9 1377.1L2219.4 1385.0L2218.5 1392.3L2217.3 1399.1L2216.1 1405.4L2214.8 1411.2L2213.5 1416.6L2212.2 1421.7L2210.9 1426.4L2209.7 1430.9Z" fill="#de0040"/>
<path d="M2205.7 1435.8L2204.6 1439.8L2203.5 1443.7L2202.5 1447.4L2201.4 1451.2L2200.4 1454.9L2199.3 1458.7L2198.2 1462.5L2197.0 1466.4L2195.8 1470.4L2194.5 1474.5L2193.1 1478.8L2191.5 1483.2L2189.7 1487.8L2187.7 1492.6L2185.3 1497.5L2182.6 1502.5L2179.5 1507.6L2175.9 1512.7L2171.9 1517.5L2167.2 1522.1L2162.1 1526.2L2156.5 1529.6L2150.4 1532.1L2144.1 1533.8L2137.7 1534.4L2131.2 1534.0L2124.9 1532.6L2118.8 1530.4L2113.0 1527.5L2107.6 1524.0L2102.6 1520.1L2098.0 1515.8L2093.7 1511.3L2089.9 1506.6L2086.3 1501.7L2083.1 1496.8L2080.3 1491.9L2077.7 1486.8L2075.4 1481.8L2073.3 1476.7L2071.6 1471.6L2070.2 1466.5L2069.1 1461.3L2068.3 1456.2L2067.8 1451.0L2067.7 1445.9L2067.9 1440.8L2068.4 1435.8L2069.3 1430.9L2070.5 1426.2L2072.1 1421.5L2073.9 1417.0L2075.9 1412.7L2078.2 1408.5L2080.6 1404.5L2083.3 1400.7L2086.0 1397.0L2088.9 1393.5L2091.9 1390.0L2095.0 1386.7L2098.1 1383.4L2101.4 1380.1L2104.7 1376.9L2108.2 1373.6L2111.8 1370.3L2115.6 1366.9L2119.5 1363.4L2123.8 1359.8L2128.3 1356.1L2133.1 1352.2L2138.4 1348.1L2144.1 1344.0L2150.4 1340.0L2157.3 1336.0L2164.7 1332.5L2172.6 1329.7L2180.7 1328.1L2188.8 1328.1L2196.3 1330.0L2203.0 1333.9L2208.3 1339.7L2212.3 1347.0L2215.0 1355.1L2216.4 1363.5L2217.0 1372.0L2216.9 1380.0L2216.2 1387.7L2215.3 1394.7L2214.2 1401.3L2213.0 1407.3L2211.8 1412.9L2210.5 1418.1L2209.3 1422.9L2208.0 1427.4L2206.9 1431.7Z" fill="#d80041"/>
<path d="M2203.0 1436.5L2202.0 1440.3L2200.9 1444.0L2200.0 1447.6L2199.0 1451.2L2198.0 1454.8L2197.0 1458.5L2196.0 1462.2L2194.9 1465.9L2193.8 1469.8L2192.6 1473.8L2191.3 1478.0L2189.8 1482.3L2188.1 1486.8L2186.1 1491.4L2183.9 1496.3L2181.3 1501.2L2178.3 1506.2L2174.9 1511.1L2170.9 1515.8L2166.4 1520.2L2161.4 1524.1L2155.9 1527.3L2150.1 1529.6L2144.0 1530.9L2137.8 1531.3L2131.6 1530.7L2125.6 1529.1L2119.8 1526.8L2114.3 1523.9L2109.2 1520.4L2104.5 1516.5L2100.2 1512.4L2096.2 1508.1L2092.5 1503.6L2089.2 1499.0L2086.1 1494.4L2083.3 1489.7L2080.8 1485.0L2078.5 1480.2L2076.5 1475.5L2074.8 1470.6L2073.3 1465.8L2072.1 1460.9L2071.2 1456.0L2070.6 1451.1L2070.4 1446.2L2070.5 1441.3L2070.9 1436.5L2071.7 1431.8L2072.8 1427.1L2074.2 1422.6L2075.9 1418.3L2077.9 1414.1L2080.0 1410.0L2082.4 1406.1L2084.9 1402.4L2087.6 1398.8L2090.4 1395.4L2093.3 1392.0L2096.3 1388.8L2099.3 1385.6L2102.5 1382.4L2105.7 1379.3L2109.1 1376.1L2112.6 1372.9L2116.3 1369.6L2120.1 1366.1L2124.2 1362.6L2128.6 1358.9L2133.3 1355.1L2138.4 1351.1L2144.0 1347.1L2150.1 1343.0L2156.8 1339.1L2164.1 1335.6L2171.8 1332.8L2179.7 1331.3L2187.6 1331.3L2194.9 1333.3L2201.2 1337.4L2206.3 1343.3L2210.0 1350.5L2212.4 1358.5L2213.6 1366.9L2214.0 1375.1L2213.8 1382.9L2213.1 1390.3L2212.2 1397.1L2211.1 1403.4L2209.9 1409.2L2208.7 1414.5L2207.5 1419.5L2206.3 1424.1L2205.2 1428.4L2204.1 1432.6Z" fill="#d20043"/>
<path d="M2200.3 1437.2L2199.3 1440.8L2198.4 1444.3L2197.5 1447.8L2196.6 1451.3L2195.7 1454.8L2194.8 1458.3L2193.8 1461.8L2192.9 1465.5L2191.8 1469.2L2190.7 1473.1L2189.4 1477.2L2188.1 1481.4L2186.5 1485.8L2184.6 1490.3L2182.5 1495.0L2180.0 1499.9L2177.2 1504.7L2173.8 1509.5L2170.0 1514.1L2165.6 1518.4L2160.7 1522.1L2155.4 1525.0L2149.7 1527.1L2143.8 1528.1L2137.9 1528.2L2132.0 1527.4L2126.2 1525.6L2120.8 1523.2L2115.7 1520.2L2110.9 1516.7L2106.5 1513.0L2102.4 1509.0L2098.6 1504.8L2095.2 1500.6L2092.0 1496.3L2089.1 1492.0L2086.4 1487.6L2083.9 1483.2L2081.7 1478.7L2079.7 1474.2L2077.9 1469.7L2076.4 1465.1L2075.1 1460.5L2074.2 1455.8L2073.5 1451.2L2073.2 1446.5L2073.2 1441.8L2073.5 1437.2L2074.1 1432.6L2075.1 1428.1L2076.4 1423.8L2078.0 1419.5L2079.8 1415.4L2081.9 1411.5L2084.2 1407.8L2086.6 1404.1L2089.2 1400.7L2091.9 1397.3L2094.7 1394.1L2097.6 1390.9L2100.6 1387.8L2103.6 1384.7L2106.8 1381.7L2110.0 1378.6L2113.4 1375.4L2116.9 1372.2L2120.7 1368.9L2124.6 1365.4L2128.8 1361.8L2133.4 1358.0L2138.4 1354.1L2143.8 1350.1L2149.8 1346.1L2156.3 1342.2L2163.4 1338.7L2171.0 1336.0L2178.7 1334.5L2186.3 1334.6L2193.4 1336.7L2199.5 1340.8L2204.2 1346.8L2207.6 1354.0L2209.8 1362.0L2210.8 1370.2L2211.1 1378.2L2210.8 1385.8L2210.0 1392.9L2209.1 1399.5L2208.0 1405.5L2206.9 1411.1L2205.7 1416.2L2204.5 1420.9L2203.4 1425.3L2202.3 1429.5L2201.3 1433.4Z" fill="#cb0045"/>
<path d="M2197.5 1437.8L2196.7 1441.3L2195.8 1444.7L2195.0 1448.0L2194.1 1451.3L2193.3 1454.7L2192.5 1458.0L2191.6 1461.5L2190.8 1465.0L2189.8 1468.6L2188.8 1472.4L2187.6 1476.4L2186.3 1480.5L2184.8 1484.8L2183.1 1489.2L2181.1 1493.8L2178.7 1498.5L2176.0 1503.3L2172.7 1508.0L2169.0 1512.4L2164.8 1516.5L2160.0 1520.0L2154.9 1522.7L2149.4 1524.5L2143.7 1525.3L2138.0 1525.2L2132.3 1524.1L2126.9 1522.1L2121.8 1519.6L2117.0 1516.5L2112.5 1513.1L2108.4 1509.4L2104.6 1505.6L2101.1 1501.6L2097.8 1497.6L2094.8 1493.6L2092.0 1489.5L2089.4 1485.4L2087.0 1481.3L2084.8 1477.2L2082.9 1473.0L2081.1 1468.7L2079.5 1464.4L2078.2 1460.1L2077.1 1455.7L2076.4 1451.2L2075.9 1446.8L2075.8 1442.3L2076.0 1437.8L2076.5 1433.4L2077.4 1429.1L2078.6 1424.9L2080.1 1420.8L2081.8 1416.8L2083.8 1413.0L2086.0 1409.4L2088.3 1405.9L2090.8 1402.5L2093.4 1399.2L2096.1 1396.1L2098.9 1393.0L2101.8 1390.0L2104.7 1387.0L2107.8 1384.1L2110.9 1381.1L2114.2 1378.0L2117.6 1374.9L2121.2 1371.6L2125.0 1368.2L2129.1 1364.7L2133.6 1360.9L2138.4 1357.1L2143.7 1353.1L2149.5 1349.1L2155.9 1345.3L2162.8 1341.8L2170.1 1339.1L2177.7 1337.6L2185.1 1337.8L2191.9 1340.0L2197.7 1344.3L2202.2 1350.3L2205.3 1357.5L2207.2 1365.4L2208.0 1373.5L2208.1 1381.3L2207.7 1388.7L2206.9 1395.6L2206.0 1401.9L2204.9 1407.7L2203.8 1412.9L2202.7 1417.8L2201.5 1422.3L2200.5 1426.5L2199.5 1430.5L2198.5 1434.2Z" fill="#c40046"/>
<path d="M2194.8 1438.5L2194.0 1441.8L2193.2 1445.0L2192.4 1448.2L2191.7 1451.4L2191.0 1454.6L2190.2 1457.8L2189.5 1461.1L2188.7 1464.5L2187.8 1468.1L2186.9 1471.7L2185.8 1475.6L2184.6 1479.6L2183.2 1483.7L2181.6 1488.1L2179.7 1492.6L2177.5 1497.2L2174.8 1501.9L2171.7 1506.4L2168.1 1510.7L2164.0 1514.6L2159.3 1517.9L2154.3 1520.4L2149.0 1522.0L2143.6 1522.5L2138.1 1522.1L2132.7 1520.8L2127.6 1518.7L2122.8 1516.0L2118.3 1512.9L2114.2 1509.5L2110.3 1505.9L2106.8 1502.2L2103.5 1498.4L2100.5 1494.6L2097.6 1490.9L2095.0 1487.1L2092.5 1483.3L2090.2 1479.5L2088.0 1475.6L2086.0 1471.7L2084.2 1467.8L2082.6 1463.7L2081.2 1459.7L2080.1 1455.5L2079.2 1451.3L2078.7 1447.0L2078.4 1442.8L2078.5 1438.5L2079.0 1434.3L2079.7 1430.1L2080.8 1426.0L2082.1 1422.0L2083.8 1418.2L2085.6 1414.5L2087.7 1411.0L2090.0 1407.6L2092.4 1404.3L2094.9 1401.2L2097.5 1398.1L2100.2 1395.1L2103.0 1392.2L2105.8 1389.4L2108.8 1386.5L2111.8 1383.6L2115.0 1380.6L2118.3 1377.5L2121.8 1374.3L2125.5 1371.0L2129.4 1367.5L2133.7 1363.9L2138.4 1360.1L2143.6 1356.1L2149.2 1352.2L2155.4 1348.3L2162.2 1344.9L2169.3 1342.3L2176.7 1340.8L2183.9 1341.1L2190.5 1343.4L2196.0 1347.7L2200.2 1353.8L2203.0 1361.0L2204.6 1368.9L2205.2 1376.8L2205.2 1384.4L2204.7 1391.6L2203.8 1398.2L2202.8 1404.3L2201.8 1409.8L2200.7 1414.8L2199.6 1419.5L2198.6 1423.8L2197.6 1427.8L2196.6 1431.5L2195.7 1435.1Z" fill="#be0048"/>
<path d="M2191.8 1438.0L2191.0 1441.1L2190.2 1444.2L2189.5 1447.2L2188.7 1450.3L2188.0 1453.3L2187.3 1456.4L2186.6 1459.5L2185.8 1462.7L2185.0 1466.1L2184.1 1469.6L2183.2 1473.2L2182.0 1477.1L2180.8 1481.1L2179.3 1485.3L2177.5 1489.6L2175.4 1494.1L2172.9 1498.7L2170.0 1503.2L2166.6 1507.6L2162.7 1511.6L2158.3 1515.0L2153.5 1517.7L2148.3 1519.4L2143.0 1520.1L2137.6 1519.7L2132.4 1518.4L2127.4 1516.2L2122.8 1513.5L2118.5 1510.3L2114.5 1506.8L2110.8 1503.2L2107.5 1499.5L2104.4 1495.8L2101.5 1492.0L2098.8 1488.3L2096.3 1484.7L2094.0 1481.0L2091.8 1477.3L2089.7 1473.6L2087.8 1469.8L2086.1 1466.0L2084.6 1462.2L2083.2 1458.3L2082.1 1454.3L2081.3 1450.3L2080.7 1446.2L2080.4 1442.1L2080.5 1438.0L2080.8 1433.9L2081.5 1429.9L2082.5 1426.0L2083.8 1422.2L2085.4 1418.5L2087.2 1414.9L2089.2 1411.5L2091.4 1408.2L2093.7 1405.1L2096.2 1402.1L2098.7 1399.2L2101.4 1396.4L2104.1 1393.6L2106.8 1390.9L2109.7 1388.1L2112.6 1385.4L2115.6 1382.6L2118.8 1379.7L2122.2 1376.7L2125.7 1373.5L2129.5 1370.2L2133.6 1366.7L2138.1 1363.1L2143.0 1359.3L2148.4 1355.5L2154.3 1351.7L2160.8 1348.4L2167.7 1345.7L2174.8 1344.1L2181.8 1344.2L2188.2 1346.2L2193.6 1350.3L2197.7 1356.1L2200.4 1363.2L2201.9 1370.8L2202.4 1378.6L2202.3 1386.0L2201.7 1393.0L2200.8 1399.4L2199.8 1405.2L2198.7 1410.5L2197.6 1415.4L2196.5 1419.8L2195.4 1423.9L2194.4 1427.8L2193.5 1431.3L2192.6 1434.7Z" fill="#b80043"/>
<path d="M2188.7 1437.5L2187.9 1440.5L2187.2 1443.4L2186.5 1446.3L2185.8 1449.1L2185.1 1452.0L2184.4 1454.9L2183.7 1457.9L2183.0 1460.9L2182.3 1464.1L2181.4 1467.4L2180.5 1470.9L2179.5 1474.6L2178.3 1478.4L2176.9 1482.5L2175.3 1486.7L2173.3 1491.1L2171.0 1495.6L2168.3 1500.1L2165.1 1504.4L2161.4 1508.5L2157.3 1512.1L2152.6 1514.9L2147.6 1516.8L2142.4 1517.7L2137.2 1517.3L2132.1 1516.0L2127.2 1513.8L2122.7 1510.9L2118.6 1507.7L2114.8 1504.1L2111.4 1500.5L2108.2 1496.8L2105.3 1493.1L2102.6 1489.4L2100.0 1485.8L2097.7 1482.2L2095.5 1478.7L2093.4 1475.1L2091.5 1471.6L2089.6 1468.0L2088.0 1464.3L2086.5 1460.7L2085.2 1456.9L2084.1 1453.1L2083.3 1449.3L2082.7 1445.4L2082.4 1441.4L2082.4 1437.5L2082.7 1433.6L2083.3 1429.7L2084.3 1425.9L2085.5 1422.3L2087.0 1418.7L2088.8 1415.3L2090.7 1412.0L2092.9 1408.9L2095.1 1405.9L2097.5 1403.0L2100.0 1400.3L2102.5 1397.6L2105.1 1395.0L2107.8 1392.4L2110.5 1389.8L2113.4 1387.2L2116.3 1384.6L2119.3 1381.8L2122.5 1379.0L2125.9 1376.0L2129.6 1372.9L2133.5 1369.5L2137.7 1366.1L2142.4 1362.5L2147.6 1358.8L2153.3 1355.1L2159.5 1351.8L2166.1 1349.1L2173.0 1347.4L2179.8 1347.3L2186.0 1349.1L2191.3 1352.9L2195.2 1358.5L2197.8 1365.3L2199.2 1372.8L2199.6 1380.3L2199.3 1387.6L2198.7 1394.3L2197.7 1400.5L2196.7 1406.2L2195.6 1411.3L2194.4 1415.9L2193.4 1420.2L2192.3 1424.1L2191.3 1427.8L2190.4 1431.2L2189.5 1434.4Z" fill="#b2003f"/>
<path d="M2185.6 1437.0L2184.9 1439.8L2184.1 1442.6L2183.5 1445.3L2182.8 1448.0L2182.1 1450.7L2181.5 1453.4L2180.9 1456.2L2180.2 1459.1L2179.5 1462.2L2178.7 1465.3L2177.9 1468.6L2176.9 1472.1L2175.8 1475.8L2174.6 1479.7L2173.1 1483.7L2171.3 1488.0L2169.2 1492.4L2166.6 1496.9L2163.7 1501.3L2160.2 1505.5L2156.2 1509.2L2151.7 1512.2L2146.9 1514.3L2141.8 1515.2L2136.7 1515.0L2131.8 1513.6L2127.1 1511.3L2122.7 1508.4L2118.7 1505.1L2115.1 1501.5L2111.9 1497.8L2108.9 1494.1L2106.1 1490.4L2103.6 1486.8L2101.3 1483.3L2099.0 1479.8L2097.0 1476.4L2095.0 1472.9L2093.2 1469.5L2091.5 1466.1L2089.9 1462.6L2088.4 1459.1L2087.2 1455.6L2086.1 1451.9L2085.3 1448.3L2084.7 1444.5L2084.3 1440.8L2084.3 1437.0L2084.6 1433.2L2085.2 1429.5L2086.0 1425.9L2087.2 1422.4L2088.7 1418.9L2090.3 1415.7L2092.2 1412.5L2094.3 1409.5L2096.5 1406.7L2098.8 1404.0L2101.2 1401.4L2103.7 1398.8L2106.2 1396.3L2108.8 1393.9L2111.4 1391.5L2114.2 1389.0L2117.0 1386.5L2119.9 1384.0L2122.9 1381.3L2126.2 1378.5L2129.6 1375.5L2133.3 1372.4L2137.4 1369.1L2141.8 1365.6L2146.8 1362.1L2152.2 1358.6L2158.1 1355.3L2164.5 1352.5L2171.1 1350.7L2177.7 1350.4L2183.8 1352.0L2188.9 1355.5L2192.7 1360.9L2195.2 1367.5L2196.4 1374.8L2196.7 1382.1L2196.4 1389.2L2195.6 1395.7L2194.7 1401.7L2193.6 1407.1L2192.4 1412.0L2191.3 1416.5L2190.2 1420.6L2189.2 1424.3L2188.2 1427.8L2187.3 1431.0L2186.4 1434.1Z" fill="#ab003a"/>
<path d="M2182.6 1436.5L2181.8 1439.2L2181.1 1441.7L2180.5 1444.3L2179.8 1446.8L2179.2 1449.4L2178.6 1452.0L2178.0 1454.6L2177.4 1457.3L2176.7 1460.2L2176.0 1463.2L2175.2 1466.3L2174.4 1469.6L2173.4 1473.1L2172.2 1476.8L2170.9 1480.8L2169.2 1484.9L2167.3 1489.3L2165.0 1493.7L2162.2 1498.1L2158.9 1502.4L2155.2 1506.3L2150.9 1509.5L2146.2 1511.7L2141.3 1512.8L2136.3 1512.6L2131.4 1511.2L2126.9 1508.9L2122.7 1505.9L2118.9 1502.5L2115.5 1498.8L2112.4 1495.1L2109.6 1491.4L2107.0 1487.8L2104.7 1484.2L2102.5 1480.8L2100.4 1477.4L2098.5 1474.1L2096.6 1470.8L2094.9 1467.5L2093.3 1464.2L2091.8 1460.9L2090.4 1457.6L2089.2 1454.2L2088.1 1450.7L2087.3 1447.2L2086.7 1443.7L2086.3 1440.1L2086.2 1436.5L2086.5 1432.9L2087.0 1429.4L2087.8 1425.9L2088.9 1422.5L2090.3 1419.2L2091.9 1416.1L2093.7 1413.1L2095.7 1410.2L2097.9 1407.5L2100.1 1404.9L2102.4 1402.4L2104.8 1400.0L2107.3 1397.7L2109.8 1395.4L2112.3 1393.2L2114.9 1390.9L2117.6 1388.5L2120.4 1386.1L2123.3 1383.6L2126.4 1381.0L2129.7 1378.2L2133.2 1375.2L2137.1 1372.1L2141.3 1368.8L2145.9 1365.4L2151.1 1362.0L2156.7 1358.7L2162.9 1355.9L2169.3 1354.0L2175.6 1353.5L2181.6 1354.8L2186.5 1358.1L2190.2 1363.2L2192.6 1369.6L2193.7 1376.7L2193.9 1383.9L2193.5 1390.7L2192.6 1397.1L2191.6 1402.9L2190.5 1408.1L2189.3 1412.8L2188.2 1417.1L2187.1 1420.9L2186.1 1424.5L2185.1 1427.8L2184.2 1430.8L2183.4 1433.7Z" fill="#a50036"/>
<path d="M2179.5 1436.0L2178.8 1438.5L2178.1 1440.9L2177.5 1443.3L2176.9 1445.7L2176.3 1448.1L2175.7 1450.5L2175.1 1453.0L2174.5 1455.5L2173.9 1458.2L2173.3 1461.0L2172.6 1464.0L2171.8 1467.1L2170.9 1470.5L2169.9 1474.0L2168.7 1477.8L2167.2 1481.9L2165.4 1486.1L2163.3 1490.5L2160.7 1495.0L2157.7 1499.3L2154.1 1503.4L2150.0 1506.7L2145.5 1509.2L2140.7 1510.4L2135.8 1510.2L2131.1 1508.8L2126.7 1506.5L2122.7 1503.4L2119.0 1499.8L2115.8 1496.1L2112.9 1492.4L2110.3 1488.7L2107.9 1485.1L2105.7 1481.6L2103.7 1478.2L2101.8 1475.0L2099.9 1471.7L2098.2 1468.6L2096.6 1465.5L2095.1 1462.3L2093.7 1459.2L2092.3 1456.0L2091.2 1452.8L2090.1 1449.6L2089.3 1446.2L2088.7 1442.9L2088.3 1439.4L2088.2 1436.0L2088.3 1432.6L2088.8 1429.2L2089.6 1425.8L2090.6 1422.6L2091.9 1419.4L2093.5 1416.4L2095.2 1413.6L2097.2 1410.9L2099.2 1408.3L2101.4 1405.8L2103.7 1403.5L2106.0 1401.3L2108.3 1399.1L2110.7 1397.0L2113.2 1394.8L2115.7 1392.7L2118.3 1390.5L2120.9 1388.3L2123.7 1385.9L2126.6 1383.5L2129.7 1380.8L2133.1 1378.1L2136.7 1375.1L2140.7 1372.0L2145.1 1368.7L2150.0 1365.4L2155.4 1362.2L2161.2 1359.4L2167.4 1357.3L2173.6 1356.6L2179.3 1357.7L2184.2 1360.7L2187.8 1365.6L2190.0 1371.8L2191.0 1378.7L2191.1 1385.6L2190.5 1392.3L2189.6 1398.4L2188.6 1404.0L2187.4 1409.1L2186.2 1413.6L2185.1 1417.6L2184.0 1421.3L2183.0 1424.7L2182.0 1427.8L2181.1 1430.7L2180.3 1433.4Z" fill="#9f0031"/>
<path d="M2176.4 1435.5L2175.7 1437.8L2175.1 1440.1L2174.5 1442.3L2173.9 1444.5L2173.3 1446.8L2172.8 1449.0L2172.3 1451.3L2171.7 1453.7L2171.2 1456.2L2170.6 1458.9L2170.0 1461.7L2169.3 1464.6L2168.5 1467.8L2167.5 1471.2L2166.4 1474.9L2165.1 1478.8L2163.5 1483.0L2161.6 1487.3L2159.3 1491.8L2156.4 1496.3L2153.1 1500.4L2149.2 1504.0L2144.8 1506.6L2140.1 1507.9L2135.4 1507.9L2130.8 1506.5L2126.5 1504.0L2122.6 1500.8L2119.2 1497.2L2116.1 1493.5L2113.4 1489.7L2111.0 1486.0L2108.8 1482.4L2106.8 1479.0L2104.9 1475.7L2103.1 1472.5L2101.4 1469.4L2099.8 1466.4L2098.3 1463.4L2096.9 1460.5L2095.5 1457.5L2094.3 1454.5L2093.1 1451.5L2092.1 1448.4L2091.3 1445.2L2090.7 1442.0L2090.2 1438.8L2090.1 1435.5L2090.2 1432.2L2090.6 1429.0L2091.3 1425.8L2092.3 1422.7L2093.6 1419.7L2095.0 1416.8L2096.7 1414.1L2098.6 1411.5L2100.6 1409.1L2102.7 1406.8L2104.9 1404.6L2107.1 1402.5L2109.4 1400.5L2111.7 1398.5L2114.1 1396.5L2116.5 1394.5L2118.9 1392.5L2121.5 1390.4L2124.1 1388.2L2126.9 1386.0L2129.8 1383.5L2132.9 1380.9L2136.4 1378.1L2140.1 1375.1L2144.3 1372.0L2148.9 1368.8L2154.0 1365.6L2159.6 1362.8L2165.5 1360.7L2171.5 1359.7L2177.1 1360.5L2181.8 1363.3L2185.3 1367.9L2187.4 1373.9L2188.3 1380.6L2188.2 1387.4L2187.6 1393.9L2186.6 1399.8L2185.5 1405.2L2184.3 1410.0L2183.1 1414.3L2181.9 1418.2L2180.9 1421.7L2179.8 1424.9L2178.9 1427.8L2178.0 1430.5L2177.2 1433.1Z" fill="#98002c"/>
<path d="M2173.4 1435.0L2172.7 1437.2L2172.1 1439.3L2171.5 1441.3L2170.9 1443.4L2170.4 1445.5L2169.9 1447.6L2169.4 1449.7L2168.9 1451.9L2168.4 1454.3L2167.9 1456.7L2167.3 1459.3L2166.7 1462.1L2166.0 1465.1L2165.2 1468.4L2164.2 1471.9L2163.1 1475.7L2161.7 1479.8L2159.9 1484.2L2157.8 1488.7L2155.2 1493.2L2152.0 1497.5L2148.3 1501.3L2144.1 1504.0L2139.6 1505.5L2134.9 1505.5L2130.5 1504.1L2126.3 1501.6L2122.6 1498.3L2119.3 1494.6L2116.5 1490.8L2113.9 1487.0L2111.7 1483.3L2109.7 1479.8L2107.8 1476.4L2106.1 1473.2L2104.5 1470.1L2102.9 1467.1L2101.5 1464.2L2100.1 1461.4L2098.7 1458.6L2097.4 1455.8L2096.2 1453.0L2095.1 1450.1L2094.1 1447.2L2093.3 1444.2L2092.7 1441.2L2092.2 1438.1L2092.0 1435.0L2092.1 1431.9L2092.4 1428.8L2093.1 1425.8L2094.0 1422.8L2095.2 1419.9L2096.6 1417.2L2098.2 1414.6L2100.0 1412.2L2102.0 1409.9L2104.0 1407.7L2106.1 1405.7L2108.3 1403.7L2110.5 1401.8L2112.7 1400.0L2115.0 1398.2L2117.3 1396.3L2119.6 1394.5L2122.0 1392.6L2124.5 1390.6L2127.1 1388.4L2129.9 1386.2L2132.8 1383.7L2136.0 1381.1L2139.6 1378.3L2143.5 1375.3L2147.8 1372.2L2152.7 1369.1L2158.0 1366.2L2163.7 1364.0L2169.5 1362.8L2174.9 1363.4L2179.5 1365.9L2182.8 1370.3L2184.8 1376.1L2185.5 1382.6L2185.4 1389.2L2184.7 1395.4L2183.6 1401.2L2182.4 1406.4L2181.2 1411.0L2180.0 1415.1L2178.8 1418.7L2177.7 1422.0L2176.7 1425.0L2175.8 1427.8L2174.9 1430.3L2174.1 1432.7Z" fill="#920028"/>
<path d="M2170.3 1434.5L2169.7 1436.5L2169.0 1438.5L2168.5 1440.4L2168.0 1442.3L2167.5 1444.2L2167.0 1446.1L2166.5 1448.1L2166.1 1450.1L2165.6 1452.3L2165.2 1454.6L2164.7 1457.0L2164.1 1459.6L2163.5 1462.5L2162.8 1465.6L2162.0 1469.0L2161.0 1472.7L2159.8 1476.7L2158.3 1481.0L2156.3 1485.5L2153.9 1490.2L2151.0 1494.6L2147.4 1498.5L2143.4 1501.5L2139.0 1503.1L2134.5 1503.1L2130.2 1501.7L2126.1 1499.1L2122.6 1495.8L2119.5 1492.0L2116.8 1488.1L2114.4 1484.3L2112.4 1480.6L2110.5 1477.1L2108.8 1473.8L2107.3 1470.7L2105.8 1467.7L2104.4 1464.8L2103.1 1462.1L2101.8 1459.4L2100.5 1456.7L2099.3 1454.1L2098.2 1451.4L2097.1 1448.7L2096.1 1446.0L2095.3 1443.2L2094.6 1440.3L2094.2 1437.4L2093.9 1434.5L2094.0 1431.5L2094.3 1428.6L2094.8 1425.7L2095.7 1422.9L2096.8 1420.2L2098.2 1417.6L2099.8 1415.1L2101.5 1412.8L2103.4 1410.7L2105.3 1408.7L2107.4 1406.7L2109.4 1404.9L2111.5 1403.2L2113.7 1401.5L2115.8 1399.8L2118.0 1398.2L2120.3 1396.5L2122.5 1394.7L2124.9 1392.9L2127.3 1390.9L2129.9 1388.8L2132.7 1386.6L2135.7 1384.1L2139.0 1381.5L2142.7 1378.6L2146.8 1375.6L2151.3 1372.5L2156.4 1369.6L2161.8 1367.3L2167.4 1365.9L2172.7 1366.2L2177.1 1368.5L2180.3 1372.6L2182.2 1378.2L2182.8 1384.5L2182.6 1390.9L2181.8 1397.0L2180.6 1402.6L2179.4 1407.5L2178.1 1411.9L2176.9 1415.8L2175.7 1419.3L2174.6 1422.4L2173.6 1425.2L2172.7 1427.8L2171.8 1430.2L2171.0 1432.4Z" fill="#8c0023"/>
<path d="M2170.6 1432.0L2169.9 1434.0L2169.3 1436.0L2168.6 1437.9L2168.0 1439.8L2167.4 1441.6L2166.9 1443.5L2166.3 1445.4L2165.7 1447.4L2165.1 1449.5L2164.5 1451.6L2163.9 1453.8L2163.2 1456.2L2162.5 1458.8L2161.7 1461.6L2160.8 1464.6L2159.7 1467.8L2158.4 1471.3L2156.8 1475.1L2154.9 1479.0L2152.6 1483.0L2149.9 1486.8L2146.6 1490.2L2143.0 1492.9L2139.0 1494.4L2134.9 1494.7L2130.8 1493.7L2127.1 1491.9L2123.6 1489.3L2120.5 1486.4L2117.7 1483.3L2115.2 1480.1L2113.0 1477.0L2111.0 1473.9L2109.1 1470.9L2107.4 1468.0L2105.9 1465.1L2104.5 1462.2L2103.2 1459.5L2102.0 1456.7L2100.9 1454.0L2099.9 1451.2L2099.0 1448.5L2098.2 1445.8L2097.6 1443.1L2097.0 1440.3L2096.6 1437.6L2096.4 1434.8L2096.3 1432.0L2096.5 1429.2L2096.9 1426.4L2097.6 1423.7L2098.5 1421.1L2099.6 1418.6L2100.8 1416.2L2102.3 1413.9L2103.9 1411.7L2105.6 1409.7L2107.4 1407.8L2109.3 1405.9L2111.2 1404.2L2113.1 1402.5L2115.1 1400.8L2117.1 1399.2L2119.1 1397.6L2121.2 1395.9L2123.4 1394.3L2125.6 1392.5L2127.9 1390.6L2130.4 1388.7L2133.0 1386.6L2135.9 1384.4L2139.0 1382.0L2142.4 1379.5L2146.2 1376.8L2150.5 1374.2L2155.1 1371.8L2160.1 1369.8L2165.2 1368.8L2170.0 1369.1L2174.2 1371.0L2177.3 1374.6L2179.3 1379.5L2180.2 1384.9L2180.4 1390.6L2180.0 1396.0L2179.3 1401.0L2178.5 1405.6L2177.5 1409.7L2176.6 1413.4L2175.6 1416.8L2174.7 1419.9L2173.8 1422.7L2172.9 1425.2L2172.1 1427.6L2171.3 1429.9Z" fill="#88001d"/>
<path d="M2170.9 1429.5L2170.2 1431.5L2169.5 1433.5L2168.8 1435.4L2168.1 1437.3L2167.4 1439.1L2166.7 1441.0L2166.0 1442.8L2165.3 1444.7L2164.6 1446.6L2163.9 1448.6L2163.2 1450.7L2162.4 1452.9L2161.5 1455.2L2160.6 1457.6L2159.5 1460.2L2158.3 1463.0L2157.0 1466.0L2155.4 1469.2L2153.6 1472.5L2151.4 1475.8L2148.8 1479.1L2145.9 1482.0L2142.6 1484.2L2139.0 1485.7L2135.2 1486.2L2131.5 1485.8L2128.0 1484.6L2124.7 1482.8L2121.6 1480.7L2118.7 1478.4L2116.0 1475.9L2113.6 1473.4L2111.4 1470.7L2109.4 1468.0L2107.5 1465.3L2105.9 1462.5L2104.5 1459.7L2103.3 1456.8L2102.2 1454.0L2101.3 1451.2L2100.5 1448.4L2099.9 1445.6L2099.4 1442.9L2099.0 1440.2L2098.7 1437.5L2098.6 1434.8L2098.6 1432.1L2098.8 1429.5L2099.1 1426.8L2099.6 1424.3L2100.3 1421.8L2101.2 1419.3L2102.3 1417.0L2103.5 1414.8L2104.8 1412.6L2106.3 1410.6L2107.9 1408.7L2109.5 1406.8L2111.2 1405.1L2112.9 1403.4L2114.7 1401.8L2116.5 1400.2L2118.3 1398.6L2120.2 1397.0L2122.2 1395.4L2124.2 1393.8L2126.3 1392.1L2128.5 1390.4L2130.8 1388.5L2133.3 1386.6L2136.0 1384.6L2139.0 1382.5L2142.2 1380.3L2145.7 1378.1L2149.6 1375.9L2153.8 1373.9L2158.3 1372.4L2162.9 1371.6L2167.3 1371.9L2171.2 1373.6L2174.3 1376.6L2176.4 1380.7L2177.6 1385.3L2178.2 1390.2L2178.3 1394.9L2178.1 1399.5L2177.6 1403.6L2177.0 1407.5L2176.3 1411.1L2175.5 1414.3L2174.8 1417.3L2174.0 1420.1L2173.2 1422.7L2172.4 1425.1L2171.7 1427.3Z" fill="#840017"/>
<path d="M2171.2 1426.9L2170.5 1429.0L2169.7 1431.0L2168.9 1432.9L2168.1 1434.8L2167.4 1436.6L2166.6 1438.4L2165.8 1440.2L2165.0 1442.0L2164.2 1443.8L2163.3 1445.6L2162.4 1447.5L2161.5 1449.5L2160.5 1451.5L2159.4 1453.6L2158.3 1455.8L2157.0 1458.2L2155.6 1460.7L2154.0 1463.3L2152.2 1465.9L2150.1 1468.6L2147.8 1471.3L2145.1 1473.7L2142.1 1475.6L2138.9 1477.0L2135.6 1477.8L2132.2 1477.8L2128.9 1477.3L2125.7 1476.4L2122.6 1475.1L2119.7 1473.5L2116.9 1471.7L2114.2 1469.7L2111.8 1467.5L2109.6 1465.2L2107.7 1462.6L2106.0 1459.9L2104.6 1457.1L2103.4 1454.2L2102.4 1451.3L2101.7 1448.4L2101.2 1445.6L2100.8 1442.7L2100.5 1440.0L2100.4 1437.3L2100.4 1434.6L2100.5 1432.0L2100.8 1429.4L2101.2 1426.9L2101.7 1424.5L2102.3 1422.1L2103.1 1419.8L2104.0 1417.6L2105.0 1415.4L2106.2 1413.4L2107.4 1411.4L2108.7 1409.5L2110.1 1407.7L2111.6 1405.9L2113.1 1404.3L2114.6 1402.6L2116.2 1401.1L2117.9 1399.5L2119.6 1398.0L2121.3 1396.4L2123.1 1394.9L2125.0 1393.3L2127.0 1391.7L2129.1 1390.1L2131.3 1388.4L2133.6 1386.7L2136.2 1384.9L2138.9 1383.0L2141.9 1381.2L2145.2 1379.4L2148.8 1377.6L2152.6 1376.1L2156.6 1374.9L2160.7 1374.4L2164.7 1374.8L2168.2 1376.2L2171.2 1378.6L2173.5 1381.9L2175.1 1385.8L2176.1 1389.8L2176.6 1393.9L2176.8 1397.9L2176.7 1401.7L2176.4 1405.3L2176.0 1408.7L2175.4 1411.8L2174.8 1414.8L2174.2 1417.5L2173.5 1420.1L2172.7 1422.5L2172.0 1424.8Z" fill="#800011"/>
<path d="M2171.5 1424.4L2170.7 1426.5L2169.9 1428.5L2169.1 1430.4L2168.2 1432.3L2167.3 1434.1L2166.5 1435.8L2165.5 1437.6L2164.6 1439.3L2163.7 1440.9L2162.7 1442.6L2161.6 1444.3L2160.6 1446.1L2159.4 1447.8L2158.3 1449.6L2157.0 1451.5L2155.6 1453.4L2154.2 1455.3L2152.6 1457.4L2150.8 1459.4L2148.8 1461.5L2146.7 1463.5L2144.3 1465.4L2141.7 1467.0L2138.9 1468.4L2136.0 1469.3L2132.9 1469.9L2129.8 1470.0L2126.7 1469.9L2123.6 1469.4L2120.6 1468.6L2117.7 1467.5L2114.8 1466.1L2112.2 1464.4L2109.9 1462.3L2107.8 1459.9L2106.0 1457.3L2104.6 1454.5L2103.5 1451.6L2102.7 1448.6L2102.1 1445.7L2101.8 1442.7L2101.6 1439.9L2101.7 1437.1L2101.8 1434.4L2102.1 1431.7L2102.5 1429.2L2103.0 1426.8L2103.6 1424.4L2104.2 1422.1L2105.0 1420.0L2105.8 1417.8L2106.8 1415.8L2107.8 1413.8L2108.8 1412.0L2109.9 1410.1L2111.1 1408.4L2112.4 1406.7L2113.7 1405.0L2115.0 1403.4L2116.4 1401.9L2117.8 1400.3L2119.3 1398.8L2120.8 1397.3L2122.4 1395.8L2124.1 1394.3L2125.8 1392.8L2127.7 1391.3L2129.6 1389.8L2131.7 1388.2L2134.0 1386.7L2136.3 1385.1L2138.9 1383.6L2141.7 1382.1L2144.7 1380.6L2147.9 1379.3L2151.3 1378.2L2154.9 1377.5L2158.5 1377.2L2162.0 1377.6L2165.3 1378.7L2168.2 1380.6L2170.6 1383.2L2172.5 1386.2L2173.9 1389.5L2174.9 1392.9L2175.5 1396.4L2175.8 1399.8L2175.9 1403.1L2175.7 1406.3L2175.4 1409.3L2174.9 1412.2L2174.4 1414.9L2173.7 1417.5L2173.0 1419.9L2172.3 1422.2Z" fill="#7c000b"/>
<path d="M2171.8 1421.9L2171.0 1424.0L2170.1 1426.0L2169.2 1427.9L2168.3 1429.8L2167.3 1431.5L2166.3 1433.3L2165.3 1434.9L2164.2 1436.5L2163.2 1438.1L2162.0 1439.7L2160.9 1441.2L2159.7 1442.7L2158.4 1444.2L2157.1 1445.6L2155.7 1447.1L2154.3 1448.6L2152.8 1450.0L2151.1 1451.4L2149.4 1452.9L2147.6 1454.3L2145.6 1455.7L2143.5 1457.1L2141.3 1458.4L2138.9 1459.7L2136.3 1460.9L2133.6 1461.9L2130.8 1462.8L2127.8 1463.4L2124.7 1463.8L2121.6 1463.8L2118.5 1463.3L2115.5 1462.5L2112.7 1461.2L2110.1 1459.4L2107.9 1457.2L2106.1 1454.7L2104.7 1451.9L2103.6 1449.0L2102.9 1446.0L2102.5 1442.9L2102.4 1439.9L2102.5 1437.0L2102.8 1434.2L2103.2 1431.5L2103.8 1428.9L2104.5 1426.4L2105.2 1424.1L2106.0 1421.9L2106.8 1419.8L2107.7 1417.8L2108.6 1415.9L2109.5 1414.0L2110.5 1412.3L2111.5 1410.5L2112.5 1408.9L2113.6 1407.3L2114.6 1405.7L2115.8 1404.1L2116.9 1402.6L2118.1 1401.1L2119.4 1399.6L2120.7 1398.2L2122.1 1396.7L2123.5 1395.2L2125.0 1393.8L2126.7 1392.4L2128.4 1390.9L2130.2 1389.5L2132.2 1388.1L2134.3 1386.7L2136.5 1385.4L2138.9 1384.1L2141.5 1382.9L2144.2 1381.9L2147.0 1381.0L2150.0 1380.4L2153.1 1380.0L2156.2 1380.0L2159.3 1380.5L2162.3 1381.3L2165.1 1382.6L2167.7 1384.4L2169.9 1386.6L2171.7 1389.1L2173.1 1391.9L2174.2 1394.8L2174.9 1397.8L2175.3 1400.9L2175.4 1403.9L2175.3 1406.8L2175.0 1409.6L2174.6 1412.3L2174.0 1414.9L2173.3 1417.4L2172.6 1419.7Z" fill="#780005"/>
<path d="M2169.6 1421.3L2168.8 1423.3L2167.9 1425.1L2167.1 1426.9L2166.2 1428.6L2165.2 1430.3L2164.3 1431.9L2163.3 1433.4L2162.4 1434.9L2161.3 1436.4L2160.3 1437.8L2159.2 1439.2L2158.1 1440.6L2156.9 1442.0L2155.7 1443.4L2154.4 1444.7L2153.1 1446.1L2151.6 1447.4L2150.1 1448.8L2148.5 1450.1L2146.8 1451.5L2145.0 1452.8L2143.1 1454.1L2141.0 1455.4L2138.8 1456.7L2136.4 1457.8L2133.8 1458.9L2131.1 1459.7L2128.3 1460.4L2125.3 1460.9L2122.3 1461.0L2119.3 1460.7L2116.4 1460.0L2113.7 1458.8L2111.2 1457.2L2109.1 1455.1L2107.4 1452.7L2106.0 1450.0L2105.1 1447.1L2104.5 1444.2L2104.2 1441.2L2104.2 1438.3L2104.3 1435.5L2104.7 1432.8L2105.2 1430.3L2105.8 1427.8L2106.4 1425.5L2107.2 1423.4L2107.9 1421.3L2108.7 1419.3L2109.6 1417.4L2110.4 1415.7L2111.3 1413.9L2112.3 1412.3L2113.2 1410.7L2114.2 1409.2L2115.1 1407.7L2116.2 1406.2L2117.2 1404.8L2118.3 1403.3L2119.4 1402.0L2120.6 1400.6L2121.8 1399.2L2123.1 1397.8L2124.4 1396.5L2125.9 1395.1L2127.4 1393.8L2129.0 1392.4L2130.7 1391.1L2132.5 1389.7L2134.4 1388.4L2136.5 1387.1L2138.8 1385.9L2141.1 1384.8L2143.7 1383.7L2146.4 1382.8L2149.2 1382.1L2152.2 1381.7L2155.2 1381.6L2158.2 1381.9L2161.1 1382.6L2163.8 1383.8L2166.3 1385.4L2168.4 1387.5L2170.1 1389.9L2171.5 1392.6L2172.4 1395.4L2173.0 1398.4L2173.3 1401.3L2173.3 1404.2L2173.2 1407.0L2172.8 1409.7L2172.3 1412.3L2171.7 1414.7L2171.1 1417.0L2170.3 1419.2Z" fill="#720004"/>
<path d="M2167.3 1420.7L2166.5 1422.5L2165.7 1424.2L2164.9 1425.9L2164.0 1427.5L2163.2 1429.0L2162.3 1430.5L2161.4 1431.9L2160.5 1433.3L2159.5 1434.6L2158.5 1436.0L2157.5 1437.3L2156.5 1438.5L2155.4 1439.8L2154.3 1441.1L2153.1 1442.3L2151.8 1443.6L2150.5 1444.9L2149.1 1446.1L2147.7 1447.4L2146.1 1448.7L2144.4 1449.9L2142.6 1451.2L2140.7 1452.4L2138.6 1453.6L2136.4 1454.7L2134.0 1455.8L2131.4 1456.7L2128.7 1457.5L2125.9 1458.0L2123.1 1458.2L2120.2 1458.0L2117.4 1457.5L2114.7 1456.4L2112.3 1454.9L2110.3 1453.0L2108.6 1450.6L2107.4 1448.0L2106.5 1445.3L2106.1 1442.4L2105.9 1439.6L2105.9 1436.8L2106.2 1434.1L2106.6 1431.5L2107.1 1429.1L2107.7 1426.8L2108.4 1424.6L2109.1 1422.6L2109.9 1420.7L2110.7 1418.8L2111.5 1417.1L2112.3 1415.4L2113.2 1413.9L2114.0 1412.3L2114.9 1410.9L2115.8 1409.4L2116.7 1408.1L2117.7 1406.7L2118.7 1405.4L2119.7 1404.1L2120.7 1402.8L2121.8 1401.5L2122.9 1400.2L2124.1 1399.0L2125.4 1397.7L2126.7 1396.5L2128.1 1395.2L2129.5 1393.9L2131.1 1392.7L2132.8 1391.4L2134.6 1390.2L2136.5 1388.9L2138.6 1387.7L2140.8 1386.6L2143.2 1385.5L2145.8 1384.6L2148.5 1383.9L2151.3 1383.4L2154.1 1383.1L2157.0 1383.3L2159.8 1383.9L2162.5 1384.9L2164.9 1386.4L2166.9 1388.4L2168.6 1390.7L2169.8 1393.3L2170.7 1396.1L2171.1 1398.9L2171.3 1401.8L2171.3 1404.6L2171.0 1407.2L2170.6 1409.8L2170.1 1412.2L2169.5 1414.5L2168.8 1416.7L2168.1 1418.7Z" fill="#6c0003"/>
<path d="M2165.1 1420.1L2164.3 1421.7L2163.5 1423.4L2162.7 1424.9L2161.9 1426.3L2161.1 1427.7L2160.3 1429.1L2159.4 1430.4L2158.6 1431.7L2157.7 1432.9L2156.8 1434.1L2155.8 1435.3L2154.9 1436.5L2153.9 1437.6L2152.8 1438.8L2151.8 1440.0L2150.6 1441.1L2149.4 1442.3L2148.2 1443.5L2146.8 1444.7L2145.4 1445.8L2143.8 1447.0L2142.2 1448.2L2140.4 1449.4L2138.4 1450.6L2136.4 1451.7L2134.1 1452.7L2131.8 1453.7L2129.2 1454.5L2126.6 1455.1L2123.8 1455.4L2121.0 1455.4L2118.3 1455.0L2115.7 1454.1L2113.4 1452.7L2111.5 1450.8L2109.9 1448.6L2108.8 1446.1L2108.0 1443.4L2107.6 1440.6L2107.6 1437.9L2107.7 1435.2L2108.0 1432.7L2108.5 1430.2L2109.0 1427.9L2109.7 1425.8L2110.4 1423.7L2111.1 1421.8L2111.8 1420.1L2112.6 1418.4L2113.4 1416.7L2114.2 1415.2L2115.0 1413.8L2115.8 1412.4L2116.6 1411.0L2117.5 1409.7L2118.3 1408.4L2119.2 1407.2L2120.1 1406.0L2121.1 1404.8L2122.0 1403.6L2123.0 1402.5L2124.1 1401.3L2125.1 1400.1L2126.3 1399.0L2127.5 1397.8L2128.7 1396.6L2130.1 1395.4L2131.5 1394.3L2133.1 1393.1L2134.7 1391.9L2136.5 1390.7L2138.4 1389.5L2140.5 1388.4L2142.8 1387.4L2145.1 1386.4L2147.7 1385.6L2150.3 1385.0L2153.1 1384.7L2155.9 1384.7L2158.6 1385.1L2161.2 1386.0L2163.5 1387.4L2165.4 1389.3L2167.0 1391.5L2168.1 1394.0L2168.9 1396.7L2169.3 1399.5L2169.3 1402.2L2169.2 1404.9L2168.9 1407.4L2168.4 1409.9L2167.9 1412.2L2167.2 1414.3L2166.5 1416.4L2165.8 1418.3Z" fill="#660002"/>
<path d="M2162.8 1419.4L2162.1 1421.0L2161.3 1422.5L2160.6 1423.9L2159.8 1425.2L2159.0 1426.5L2158.2 1427.7L2157.5 1428.9L2156.7 1430.0L2155.8 1431.2L2155.0 1432.3L2154.2 1433.3L2153.3 1434.4L2152.4 1435.5L2151.4 1436.5L2150.4 1437.6L2149.4 1438.7L2148.3 1439.7L2147.2 1440.8L2145.9 1441.9L2144.6 1443.0L2143.2 1444.1L2141.7 1445.3L2140.1 1446.4L2138.3 1447.5L2136.4 1448.6L2134.3 1449.7L2132.1 1450.6L2129.7 1451.5L2127.2 1452.2L2124.6 1452.6L2121.9 1452.7L2119.2 1452.4L2116.7 1451.7L2114.5 1450.4L2112.6 1448.7L2111.2 1446.6L2110.1 1444.1L2109.5 1441.5L2109.2 1438.9L2109.2 1436.2L2109.5 1433.7L2109.9 1431.2L2110.4 1428.9L2111.0 1426.8L2111.6 1424.7L2112.3 1422.9L2113.0 1421.1L2113.8 1419.4L2114.5 1417.9L2115.3 1416.4L2116.0 1415.0L2116.8 1413.7L2117.6 1412.4L2118.4 1411.2L2119.1 1410.0L2119.9 1408.8L2120.8 1407.7L2121.6 1406.6L2122.4 1405.5L2123.3 1404.5L2124.2 1403.4L2125.2 1402.3L2126.2 1401.3L2127.2 1400.2L2128.3 1399.1L2129.4 1398.0L2130.7 1397.0L2132.0 1395.8L2133.4 1394.7L2134.9 1393.6L2136.5 1392.5L2138.3 1391.4L2140.2 1390.3L2142.3 1389.2L2144.5 1388.2L2146.9 1387.4L2149.4 1386.7L2152.0 1386.2L2154.7 1386.1L2157.4 1386.4L2159.9 1387.2L2162.1 1388.4L2164.0 1390.2L2165.4 1392.3L2166.5 1394.7L2167.1 1397.3L2167.4 1400.0L2167.4 1402.7L2167.1 1405.2L2166.7 1407.7L2166.2 1410.0L2165.6 1412.1L2165.0 1414.1L2164.3 1416.0L2163.6 1417.8Z" fill="#600002"/>
<path d="M2160.6 1418.8L2159.8 1420.2L2159.1 1421.6L2158.4 1422.8L2157.7 1424.0L2156.9 1425.2L2156.2 1426.3L2155.5 1427.4L2154.8 1428.4L2154.0 1429.4L2153.2 1430.4L2152.5 1431.4L2151.7 1432.3L2150.9 1433.3L2150.0 1434.3L2149.1 1435.2L2148.2 1436.2L2147.2 1437.2L2146.2 1438.2L2145.1 1439.2L2143.9 1440.2L2142.6 1441.2L2141.2 1442.3L2139.8 1443.4L2138.2 1444.5L2136.4 1445.5L2134.5 1446.6L2132.4 1447.6L2130.2 1448.5L2127.8 1449.3L2125.3 1449.8L2122.7 1450.1L2120.2 1449.9L2117.8 1449.3L2115.6 1448.2L2113.8 1446.6L2112.4 1444.5L2111.5 1442.2L2111.0 1439.7L2110.8 1437.1L2110.9 1434.5L2111.2 1432.1L2111.7 1429.8L2112.3 1427.6L2112.9 1425.6L2113.6 1423.7L2114.3 1422.0L2115.0 1420.3L2115.7 1418.8L2116.5 1417.4L2117.2 1416.1L2117.9 1414.8L2118.6 1413.6L2119.4 1412.4L2120.1 1411.3L2120.8 1410.3L2121.5 1409.2L2122.3 1408.2L2123.1 1407.2L2123.8 1406.3L2124.6 1405.3L2125.4 1404.3L2126.3 1403.4L2127.2 1402.4L2128.1 1401.4L2129.1 1400.5L2130.1 1399.5L2131.2 1398.5L2132.4 1397.4L2133.7 1396.4L2135.1 1395.3L2136.5 1394.3L2138.2 1393.2L2139.9 1392.1L2141.8 1391.0L2143.9 1390.0L2146.1 1389.1L2148.5 1388.3L2151.0 1387.8L2153.6 1387.5L2156.1 1387.7L2158.5 1388.3L2160.7 1389.4L2162.5 1391.1L2163.9 1393.1L2164.8 1395.4L2165.3 1398.0L2165.5 1400.5L2165.4 1403.1L2165.1 1405.5L2164.6 1407.9L2164.0 1410.0L2163.4 1412.1L2162.7 1413.9L2162.0 1415.7L2161.3 1417.3Z" fill="#5a0001"/>
<path d="M2158.3 1418.2L2157.6 1419.5L2156.9 1420.7L2156.2 1421.8L2155.5 1422.9L2154.9 1423.9L2154.2 1424.9L2153.5 1425.9L2152.9 1426.8L2152.2 1427.7L2151.5 1428.6L2150.8 1429.4L2150.1 1430.3L2149.3 1431.1L2148.6 1432.0L2147.8 1432.8L2147.0 1433.7L2146.1 1434.6L2145.2 1435.5L2144.2 1436.4L2143.1 1437.4L2142.0 1438.3L2140.8 1439.3L2139.5 1440.4L2138.0 1441.4L2136.4 1442.5L2134.7 1443.5L2132.8 1444.6L2130.7 1445.6L2128.4 1446.4L2126.0 1447.1L2123.6 1447.4L2121.1 1447.4L2118.8 1446.9L2116.7 1445.9L2115.0 1444.4L2113.7 1442.5L2112.9 1440.2L2112.5 1437.8L2112.4 1435.3L2112.6 1432.9L2113.0 1430.5L2113.5 1428.3L2114.2 1426.3L2114.8 1424.4L2115.5 1422.7L2116.3 1421.1L2117.0 1419.6L2117.7 1418.2L2118.4 1416.9L2119.1 1415.7L2119.8 1414.6L2120.5 1413.5L2121.1 1412.5L2121.8 1411.5L2122.5 1410.5L2123.1 1409.6L2123.8 1408.7L2124.5 1407.8L2125.2 1407.0L2125.9 1406.1L2126.7 1405.3L2127.4 1404.4L2128.2 1403.6L2129.0 1402.7L2129.9 1401.8L2130.8 1400.9L2131.8 1400.0L2132.9 1399.0L2134.0 1398.1L2135.2 1397.1L2136.5 1396.0L2138.0 1395.0L2139.6 1393.9L2141.3 1392.9L2143.2 1391.8L2145.3 1390.8L2147.6 1390.0L2150.0 1389.3L2152.4 1389.0L2154.9 1389.0L2157.2 1389.5L2159.3 1390.5L2161.0 1392.0L2162.3 1393.9L2163.1 1396.2L2163.5 1398.6L2163.6 1401.1L2163.4 1403.5L2163.0 1405.9L2162.5 1408.1L2161.8 1410.1L2161.2 1412.0L2160.5 1413.7L2159.7 1415.3L2159.0 1416.8Z" fill="#540000"/>
<path d="M2154.3 1418.2L2153.7 1419.2L2153.1 1420.2L2152.6 1421.1L2152.0 1421.9L2151.5 1422.7L2151.0 1423.5L2150.4 1424.3L2149.9 1425.0L2149.3 1425.7L2148.8 1426.4L2148.2 1427.1L2147.7 1427.8L2147.1 1428.5L2146.5 1429.2L2145.8 1429.9L2145.2 1430.6L2144.5 1431.3L2143.7 1432.0L2142.9 1432.7L2142.1 1433.5L2141.2 1434.3L2140.2 1435.1L2139.2 1435.9L2138.0 1436.7L2136.7 1437.6L2135.3 1438.4L2133.8 1439.3L2132.1 1440.0L2130.3 1440.7L2128.4 1441.3L2126.5 1441.5L2124.5 1441.5L2122.6 1441.2L2121.0 1440.4L2119.6 1439.1L2118.6 1437.6L2117.9 1435.8L2117.6 1433.8L2117.5 1431.8L2117.7 1429.9L2118.0 1428.0L2118.4 1426.3L2118.9 1424.6L2119.5 1423.1L2120.0 1421.7L2120.6 1420.5L2121.2 1419.3L2121.7 1418.2L2122.3 1417.1L2122.9 1416.2L2123.4 1415.3L2124.0 1414.4L2124.5 1413.6L2125.0 1412.8L2125.6 1412.0L2126.1 1411.3L2126.7 1410.6L2127.2 1409.9L2127.8 1409.2L2128.3 1408.5L2128.9 1407.8L2129.5 1407.1L2130.2 1406.4L2130.8 1405.7L2131.5 1405.0L2132.3 1404.3L2133.1 1403.6L2133.9 1402.8L2134.8 1402.0L2135.8 1401.2L2136.8 1400.4L2138.0 1399.6L2139.3 1398.7L2140.7 1397.9L2142.2 1397.1L2143.9 1396.3L2145.7 1395.6L2147.6 1395.1L2149.5 1394.8L2151.5 1394.8L2153.4 1395.2L2155.0 1396.0L2156.4 1397.2L2157.4 1398.7L2158.1 1400.5L2158.4 1402.5L2158.5 1404.5L2158.3 1406.4L2158.0 1408.3L2157.6 1410.1L2157.1 1411.7L2156.5 1413.2L2156.0 1414.6L2155.4 1415.9L2154.8 1417.1Z" fill="#4f0000"/>
<path d="M2150.2 1418.1L2149.8 1418.9L2149.4 1419.6L2148.9 1420.3L2148.5 1420.9L2148.1 1421.6L2147.7 1422.1L2147.3 1422.7L2146.9 1423.3L2146.5 1423.8L2146.1 1424.3L2145.7 1424.9L2145.2 1425.4L2144.8 1425.9L2144.3 1426.4L2143.9 1426.9L2143.4 1427.4L2142.9 1428.0L2142.3 1428.5L2141.7 1429.1L2141.1 1429.6L2140.4 1430.2L2139.7 1430.8L2138.9 1431.4L2138.0 1432.1L2137.0 1432.7L2136.0 1433.3L2134.9 1434.0L2133.6 1434.5L2132.3 1435.0L2130.8 1435.4L2129.3 1435.7L2127.9 1435.7L2126.5 1435.4L2125.2 1434.8L2124.2 1433.9L2123.4 1432.7L2122.9 1431.3L2122.7 1429.9L2122.6 1428.4L2122.8 1426.9L2123.0 1425.5L2123.3 1424.2L2123.7 1423.0L2124.1 1421.8L2124.5 1420.8L2125.0 1419.8L2125.4 1418.9L2125.8 1418.1L2126.2 1417.3L2126.6 1416.6L2127.1 1415.9L2127.5 1415.3L2127.9 1414.7L2128.3 1414.1L2128.7 1413.5L2129.1 1413.0L2129.5 1412.4L2129.9 1411.9L2130.3 1411.4L2130.8 1410.9L2131.2 1410.4L2131.7 1409.8L2132.1 1409.3L2132.6 1408.8L2133.1 1408.3L2133.7 1407.7L2134.3 1407.2L2134.9 1406.6L2135.6 1406.0L2136.3 1405.4L2137.1 1404.8L2138.0 1404.2L2139.0 1403.5L2140.0 1402.9L2141.1 1402.3L2142.4 1401.7L2143.7 1401.2L2145.2 1400.8L2146.7 1400.6L2148.1 1400.6L2149.5 1400.9L2150.8 1401.5L2151.8 1402.4L2152.6 1403.5L2153.1 1404.9L2153.3 1406.4L2153.4 1407.9L2153.2 1409.3L2153.0 1410.7L2152.7 1412.0L2152.3 1413.3L2151.9 1414.4L2151.5 1415.4L2151.0 1416.4L2150.6 1417.3Z" fill="#4a0000"/>
<path d="M2146.1 1418.1L2145.8 1418.6L2145.6 1419.1L2145.3 1419.5L2145.0 1420.0L2144.7 1420.4L2144.5 1420.8L2144.2 1421.1L2143.9 1421.5L2143.7 1421.9L2143.4 1422.2L2143.1 1422.6L2142.8 1422.9L2142.5 1423.3L2142.2 1423.6L2141.9 1423.9L2141.6 1424.3L2141.2 1424.6L2140.9 1425.0L2140.5 1425.4L2140.1 1425.7L2139.6 1426.1L2139.1 1426.5L2138.6 1426.9L2138.0 1427.4L2137.4 1427.8L2136.7 1428.2L2135.9 1428.6L2135.1 1429.0L2134.2 1429.4L2133.2 1429.6L2132.2 1429.8L2131.3 1429.8L2130.3 1429.6L2129.5 1429.2L2128.8 1428.6L2128.3 1427.8L2127.9 1426.9L2127.8 1425.9L2127.8 1424.9L2127.8 1423.9L2128.0 1423.0L2128.2 1422.1L2128.5 1421.3L2128.7 1420.6L2129.0 1419.9L2129.3 1419.2L2129.6 1418.6L2129.9 1418.1L2130.2 1417.6L2130.4 1417.1L2130.7 1416.6L2131.0 1416.2L2131.3 1415.8L2131.5 1415.4L2131.8 1415.0L2132.1 1414.6L2132.3 1414.3L2132.6 1413.9L2132.9 1413.6L2133.2 1413.3L2133.5 1412.9L2133.8 1412.6L2134.1 1412.2L2134.4 1411.9L2134.8 1411.5L2135.1 1411.2L2135.5 1410.8L2135.9 1410.4L2136.4 1410.0L2136.9 1409.6L2137.4 1409.2L2138.0 1408.8L2138.6 1408.4L2139.3 1407.9L2140.1 1407.5L2140.9 1407.1L2141.8 1406.8L2142.8 1406.5L2143.8 1406.4L2144.7 1406.4L2145.7 1406.6L2146.5 1407.0L2147.2 1407.6L2147.7 1408.4L2148.1 1409.3L2148.2 1410.2L2148.2 1411.2L2148.2 1412.2L2148.0 1413.1L2147.8 1414.0L2147.5 1414.8L2147.3 1415.6L2147.0 1416.3L2146.7 1416.9L2146.4 1417.5Z" fill="#460000"/>
<path d="M2142.1 1418.0L2141.9 1418.3L2141.8 1418.5L2141.6 1418.8L2141.5 1419.0L2141.4 1419.2L2141.2 1419.4L2141.1 1419.6L2141.0 1419.8L2140.8 1419.9L2140.7 1420.1L2140.6 1420.3L2140.4 1420.5L2140.3 1420.6L2140.1 1420.8L2140.0 1421.0L2139.8 1421.1L2139.6 1421.3L2139.4 1421.5L2139.2 1421.7L2139.0 1421.9L2138.8 1422.1L2138.6 1422.3L2138.3 1422.5L2138.0 1422.7L2137.7 1422.9L2137.3 1423.1L2137.0 1423.3L2136.5 1423.5L2136.1 1423.7L2135.6 1423.8L2135.1 1423.9L2134.6 1423.9L2134.2 1423.8L2133.7 1423.6L2133.4 1423.3L2133.1 1422.9L2133.0 1422.4L2132.9 1422.0L2132.9 1421.5L2132.9 1421.0L2133.0 1420.5L2133.1 1420.1L2133.2 1419.7L2133.4 1419.3L2133.5 1418.9L2133.7 1418.6L2133.8 1418.3L2133.9 1418.0L2134.1 1417.8L2134.2 1417.5L2134.4 1417.3L2134.5 1417.1L2134.6 1416.9L2134.8 1416.7L2134.9 1416.5L2135.0 1416.3L2135.2 1416.1L2135.3 1416.0L2135.4 1415.8L2135.6 1415.6L2135.7 1415.5L2135.9 1415.3L2136.0 1415.1L2136.2 1414.9L2136.4 1414.8L2136.6 1414.6L2136.8 1414.4L2137.0 1414.2L2137.2 1414.0L2137.4 1413.8L2137.7 1413.6L2138.0 1413.4L2138.3 1413.2L2138.7 1413.0L2139.0 1412.8L2139.5 1412.6L2139.9 1412.4L2140.4 1412.3L2140.9 1412.2L2141.4 1412.2L2141.8 1412.3L2142.3 1412.5L2142.6 1412.8L2142.9 1413.2L2143.0 1413.6L2143.1 1414.1L2143.1 1414.6L2143.1 1415.1L2143.0 1415.6L2142.9 1416.0L2142.8 1416.4L2142.6 1416.8L2142.5 1417.1L2142.3 1417.5L2142.2 1417.8Z" fill="#410000"/>
</g>
<path d="M2001.1 973.6L1980.9 984.0L1960.7 994.5L1940.7 1004.9L1920.9 1015.3L1901.3 1025.5L1892.9 1001.0L1884.6 976.7L1876.3 952.6L1868.0 928.7L1859.9 905.3L1878.8 894.3L1898.1 883.3L1917.6 872.4L1937.3 861.7L1957.1 851.1L1966.0 874.9L1974.8 899.2L1983.7 923.7L1992.4 948.6ZM2007.4 970.4L2027.6 960.1L2047.8 949.9L2067.9 939.9L2087.7 930.2L2107.3 920.7L2098.6 896.1L2089.7 871.7L2080.6 847.6L2071.4 823.9L2062.1 800.6L2042.6 809.3L2022.9 818.4L2003.0 827.9L1983.1 837.8L1963.2 848.0L1972.1 871.8L1981.0 896.0L1989.8 920.6L1998.6 945.4ZM2010.0 978.1L2030.3 967.8L2050.5 957.6L2070.5 947.6L2090.4 937.8L2109.9 928.2L2118.4 952.9L2126.6 977.6L2134.5 1002.1L2142.2 1026.3L2149.5 1050.3L2130.3 1060.5L2110.8 1070.8L2091.0 1081.1L2071.1 1091.4L2051.1 1101.6L2043.2 1077.5L2035.2 1052.9L2027.0 1028.1L2018.6 1003.1ZM2003.8 981.3L1983.5 991.7L1963.3 1002.1L1943.3 1012.5L1923.5 1022.8L1903.9 1033.0L1912.3 1057.4L1920.6 1081.8L1928.9 1105.9L1937.1 1129.7L1945.2 1153.1L1964.8 1144.0L1984.7 1134.5L2004.7 1124.8L2024.8 1114.8L2044.9 1104.7L2037.1 1080.6L2029.0 1056.1L2020.8 1031.3L2012.3 1006.3ZM2208.2 873.3L2187.8 882.2L2167.6 891.4L2147.5 900.6L2127.6 910.0L2108.0 919.3L2099.2 894.8L2090.3 870.4L2081.2 846.3L2072.0 822.6L2062.7 799.3L2081.4 788.9L2100.5 778.8L2119.9 768.9L2139.5 759.3L2159.3 750.1L2169.6 773.9L2179.6 798.2L2189.4 823.0L2199.0 848.0ZM2214.4 870.7L2234.9 862.1L2255.2 853.8L2275.5 845.8L2295.6 838.2L2315.5 831.0L2306.2 806.0L2296.4 781.2L2286.3 756.8L2275.8 732.8L2265.0 709.3L2245.2 715.9L2225.3 723.0L2205.3 730.6L2185.3 738.7L2165.4 747.4L2175.7 771.2L2185.8 795.5L2195.6 820.2L2205.2 845.3ZM2217.2 878.4L2237.6 869.8L2258.0 861.5L2278.3 853.6L2298.4 845.9L2318.3 838.7L2327.0 863.9L2335.3 889.1L2343.0 914.2L2350.3 939.2L2357.0 963.9L2337.5 971.7L2317.7 979.8L2297.6 988.0L2277.4 996.3L2257.1 1004.7L2250.0 979.9L2242.4 954.7L2234.4 929.4L2226.0 903.9ZM2210.9 881.1L2190.6 890.0L2170.3 899.1L2150.1 908.3L2130.2 917.6L2110.6 926.9L2119.1 951.6L2127.3 976.2L2135.2 1000.7L2142.9 1025.0L2150.3 1049.0L2170.0 1040.8L2190.1 1032.5L2210.2 1024.2L2230.5 1015.7L2250.9 1007.3L2243.7 982.5L2236.1 957.4L2228.1 932.0L2219.7 906.6ZM2419.0 798.8L2398.1 804.6L2377.3 810.7L2356.8 817.2L2336.5 823.9L2316.6 830.9L2307.3 805.9L2297.5 781.1L2287.4 756.7L2276.9 732.7L2266.1 709.2L2285.1 701.2L2304.6 693.5L2324.4 686.3L2344.5 679.6L2364.9 673.5L2376.7 697.6L2388.1 722.3L2398.9 747.4L2409.3 772.9ZM2425.5 797.1L2446.5 791.7L2467.6 786.9L2488.7 782.4L2509.6 778.4L2530.4 774.8L2520.8 749.4L2510.5 724.2L2499.6 699.3L2488.1 675.0L2476.0 651.1L2455.0 654.0L2433.9 657.4L2412.9 661.5L2392.0 666.3L2371.2 671.7L2383.1 695.8L2394.4 720.5L2405.3 745.7L2415.7 771.2ZM2428.3 805.0L2449.4 799.7L2470.5 794.8L2491.5 790.3L2512.5 786.3L2533.2 782.7L2541.9 808.4L2549.9 834.1L2557.2 859.8L2563.7 885.3L2569.5 910.6L2549.4 914.9L2529.0 919.5L2508.4 924.3L2487.7 929.3L2466.9 934.5L2460.5 908.9L2453.4 883.1L2445.7 857.1L2437.3 831.0ZM2421.9 806.7L2401.0 812.5L2380.2 818.6L2359.6 825.0L2339.3 831.7L2319.4 838.6L2328.1 863.8L2336.3 889.0L2344.1 914.1L2351.3 939.1L2358.1 963.8L2378.2 958.1L2398.5 952.5L2419.1 946.9L2439.8 941.5L2460.5 936.1L2454.1 910.6L2447.0 884.8L2439.3 858.8L2430.9 832.7ZM2640.0 764.1L2617.8 765.7L2595.8 767.6L2574.2 770.1L2552.9 772.9L2532.0 776.1L2522.4 750.6L2512.1 725.4L2501.2 700.5L2489.8 676.1L2477.8 652.3L2498.1 648.1L2518.9 644.4L2540.3 641.4L2562.1 638.9L2584.4 637.2L2597.0 661.6L2608.9 686.6L2620.0 712.1L2630.4 738.0ZM2646.8 763.7L2669.2 762.8L2691.7 762.3L2714.1 762.3L2736.5 762.7L2758.7 763.6L2750.0 738.0L2740.5 712.6L2730.1 687.7L2718.9 663.2L2706.9 639.2L2683.6 637.4L2660.3 636.3L2637.1 635.8L2614.1 636.0L2591.3 636.8L2603.9 661.2L2615.7 686.2L2626.9 711.7L2637.3 737.6ZM2649.6 771.8L2671.9 770.8L2694.4 770.3L2716.8 770.3L2739.1 770.7L2761.2 771.5L2768.7 797.3L2775.3 823.1L2780.9 849.0L2785.6 874.6L2789.4 900.1L2768.4 900.3L2747.3 900.7L2725.9 901.3L2704.5 902.2L2683.0 903.2L2678.0 877.2L2672.2 851.0L2665.6 824.6L2658.0 798.2ZM2642.8 772.2L2620.6 773.7L2598.6 775.6L2577.0 778.0L2555.7 780.8L2534.8 783.9L2543.4 809.6L2551.4 835.3L2558.6 861.0L2565.1 886.5L2570.8 911.8L2591.4 909.8L2612.4 908.0L2633.6 906.3L2654.9 904.8L2676.4 903.5L2671.4 877.6L2665.5 851.4L2658.8 825.0L2651.2 798.6Z" fill="none" stroke="#000" stroke-width="3.33" stroke-linejoin="miter"/>
<g clip-path="url(#clip)" fill="none" stroke="#b0b0b0" stroke-opacity="0.5" stroke-width="6.67">
<path d="M807.11 1668.50H2986.49"/>
<path d="M356.42 1367.50H3437.18"/>
<path d="M212.90 1027.50H3580.70"/>
<path d="M356.42 686.50H3437.18"/>
<path d="M807.11 385.50H2986.49"/>
<path d="M1896.80 185.20A1262.92 841.80 0 0 0 1896.80 1868.80"/>
<path d="M1896.80 185.20A841.95 841.80 0 0 0 1896.80 1868.80"/>
<path d="M1896.80 185.20A420.98 841.80 0 0 0 1896.80 1868.80"/>
<path d="M1896.50 185.20V1868.80"/>
<path d="M1896.80 185.20A420.98 841.80 0 0 1 1896.80 1868.80"/>
<path d="M1896.80 185.20A841.95 841.80 0 0 1 1896.80 1868.80"/>
<path d="M1896.80 185.20A1262.92 841.80 0 0 1 1896.80 1868.80"/>
</g>
<ellipse cx="1896.8" cy="1027.0" rx="1683.9" ry="841.8" fill="none" stroke="#000" stroke-width="6.67"/>
<g stroke="#000" stroke-width="6.67" fill="none">
<path d="M633.87 1027.00v29.17"/>
<path d="M1054.85 1027.00v29.17"/>
<path d="M1475.82 1027.00v29.17"/>
<path d="M1896.80 1027.00v29.17"/>
<path d="M2317.78 1027.00v29.17"/>
<path d="M2738.75 1027.00v29.17"/>
<path d="M3159.73 1027.00v29.17"/>
<path d="M356.42 1367.06h-29.17"/>
<path d="M807.11 1668.78h-29.17"/>
</g>
<text x="1896.75" y="136" font-size="100" text-anchor="middle">GRB231114388, Sector 72, Enclosed prob 0.002</text>
<text x="669.0" y="322.0" font-size="83.33">60°</text>
<text x="152.5" y="666.0" font-size="83.33">30°</text>
<text x="58.5" y="1052.0" font-size="83.33">0°</text>
<text x="122.5" y="1434.8" font-size="83.33">-30°</text>
<text x="644.9" y="1779.2" font-size="83.33">-60°</text>
<text x="2974.4" y="322.3" font-size="83.33">60°</text>
<text x="3464.4" y="637.0" font-size="83.33">30°</text>
<text x="3623.3" y="973.8" font-size="83.33">0°</text>
<text x="3492.1" y="1434.8" font-size="83.33">-30°</text>
<text x="2970.2" y="1779.2" font-size="83.33">-60°</text>
<text x="169.0" y="1151.5" font-size="83.33">0<tspan font-size="58.33" dy="-33.5">h</tspan></text>
<text x="563.4" y="1151.5" font-size="83.33">21<tspan font-size="58.33" dy="-33.5">h</tspan></text>
<text x="984.4" y="1151.5" font-size="83.33">18<tspan font-size="58.33" dy="-33.5">h</tspan></text>
<text x="1405.3" y="1151.5" font-size="83.33">15<tspan font-size="58.33" dy="-33.5">h</tspan></text>
<text x="1826.2" y="1151.5" font-size="83.33">12<tspan font-size="58.33" dy="-33.5">h</tspan></text>
<text x="2273.7" y="1151.5" font-size="83.33">9<tspan font-size="58.33" dy="-33.5">h</tspan></text>
<text x="2694.6" y="1151.5" font-size="83.33">6<tspan font-size="58.33" dy="-33.5">h</tspan></text>
<text x="3115.6" y="1151.5" font-size="83.33">3<tspan font-size="58.33" dy="-33.5">h</tspan></text>
<text x="3536.5" y="1151.5" font-size="83.33">0<tspan font-size="58.33" dy="-33.5">h</tspan></text>
</svg>
</body></html>
